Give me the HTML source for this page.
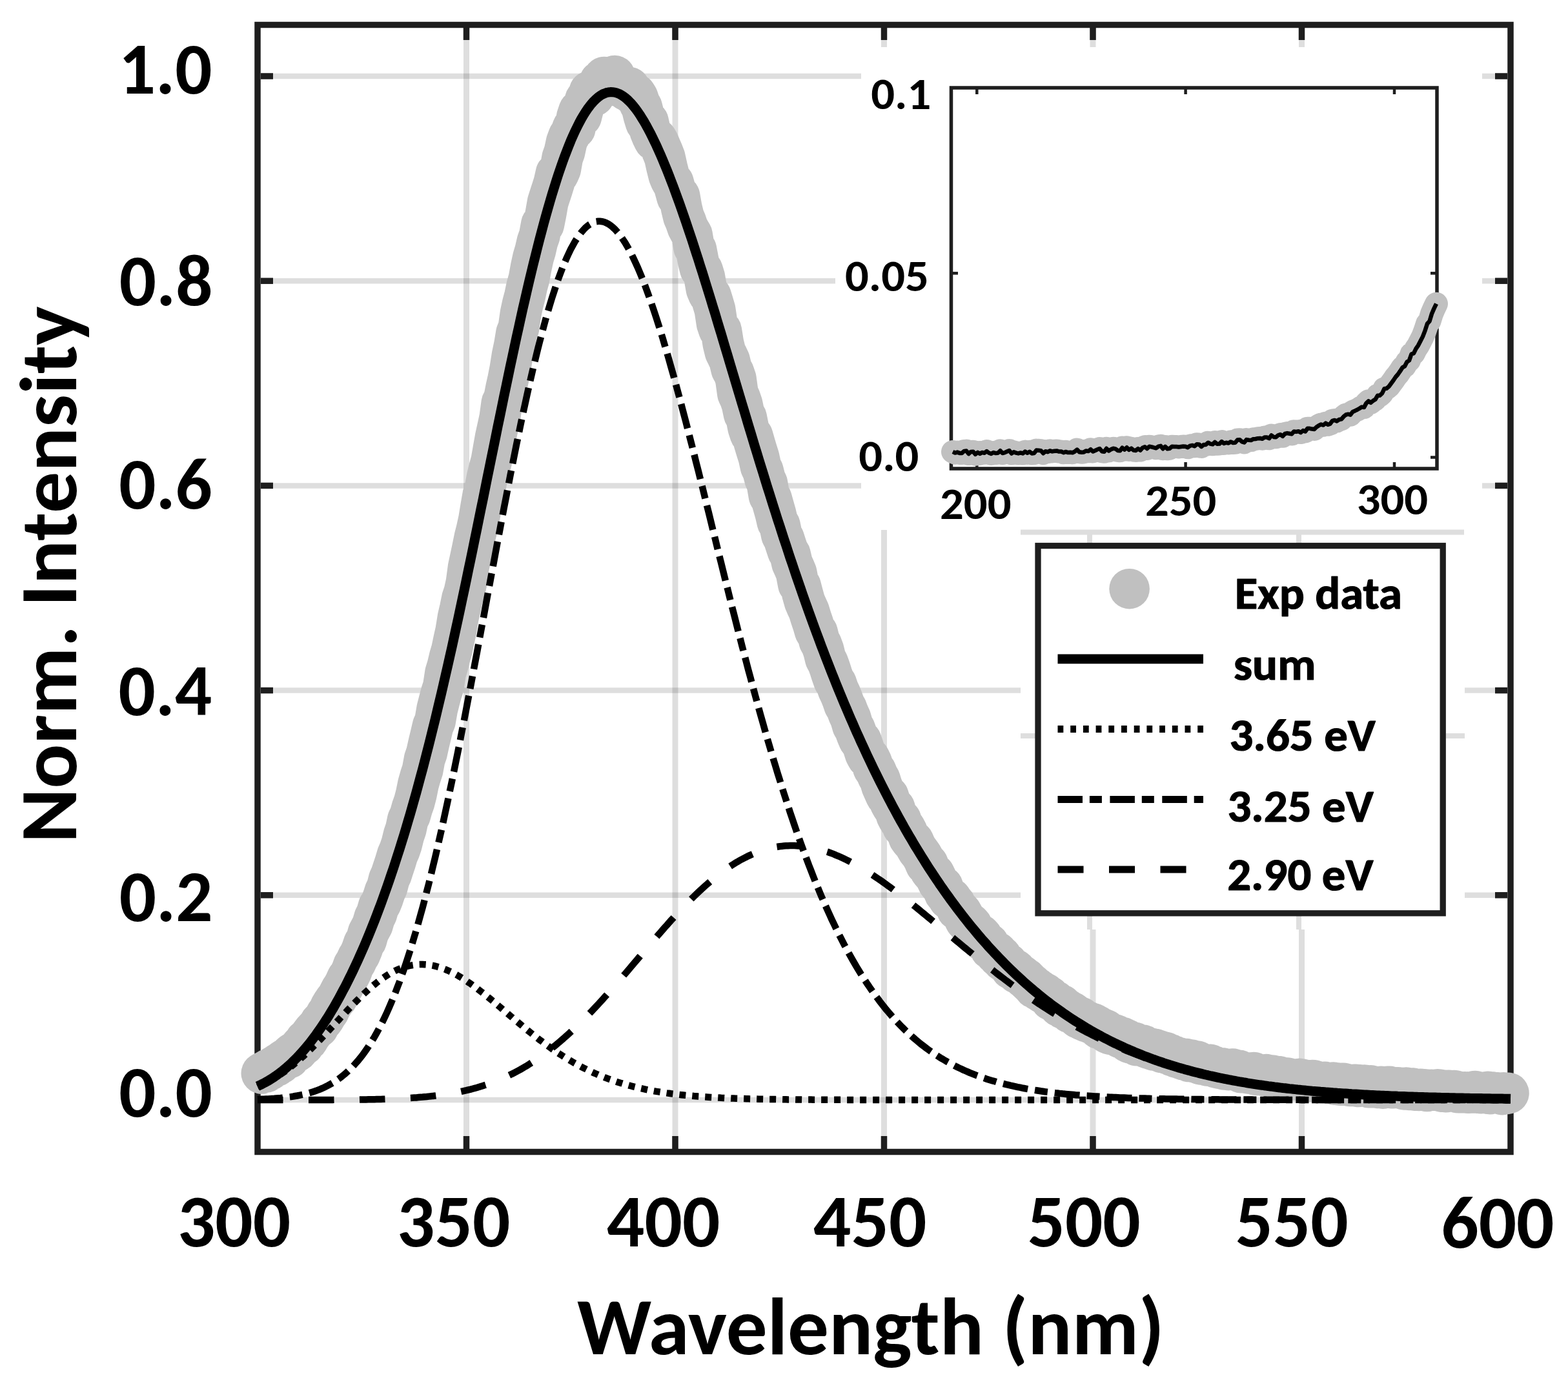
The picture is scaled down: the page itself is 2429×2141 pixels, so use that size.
<!DOCTYPE html>
<html><head><meta charset="utf-8"><title>Norm. Intensity vs Wavelength</title><style>html,body{margin:0;padding:0;background:#fff;overflow:hidden}svg{display:block}</style></head><body>
<svg width="2429" height="2141" viewBox="0 0 2429 2141">
<rect width="2429" height="2141" fill="#fff"/>
<g stroke="#000" stroke-opacity="0.13"><line x1="404" y1="1704.0" x2="2335" y2="1704.0" stroke-width="8.5"/><line x1="404" y1="1386.8" x2="2335" y2="1386.8" stroke-width="8.5"/><line x1="404" y1="1069.6" x2="2335" y2="1069.6" stroke-width="8.5"/><line x1="404" y1="752.4" x2="2335" y2="752.4" stroke-width="8.5"/><line x1="404" y1="435.2" x2="2335" y2="435.2" stroke-width="8.5"/><line x1="404" y1="118.0" x2="2335" y2="118.0" stroke-width="8.5"/><line x1="722.5" y1="43" x2="722.5" y2="1780" stroke-width="9"/><line x1="1046.0" y1="43" x2="1046.0" y2="1780" stroke-width="9"/><line x1="1369.5" y1="43" x2="1369.5" y2="1780" stroke-width="9"/><line x1="1693.0" y1="43" x2="1693.0" y2="1780" stroke-width="9"/><line x1="2016.5" y1="43" x2="2016.5" y2="1780" stroke-width="9"/></g>
<g stroke="#1e1e1e" stroke-width="9.5"><line x1="404" y1="1704.0" x2="423" y2="1704.0"/><line x1="2316" y1="1704.0" x2="2335" y2="1704.0"/><line x1="404" y1="1386.8" x2="423" y2="1386.8"/><line x1="2316" y1="1386.8" x2="2335" y2="1386.8"/><line x1="404" y1="1069.6" x2="423" y2="1069.6"/><line x1="2316" y1="1069.6" x2="2335" y2="1069.6"/><line x1="404" y1="752.4" x2="423" y2="752.4"/><line x1="2316" y1="752.4" x2="2335" y2="752.4"/><line x1="404" y1="435.2" x2="423" y2="435.2"/><line x1="2316" y1="435.2" x2="2335" y2="435.2"/><line x1="404" y1="118.0" x2="423" y2="118.0"/><line x1="2316" y1="118.0" x2="2335" y2="118.0"/><line x1="722.5" y1="43" x2="722.5" y2="62"/><line x1="722.5" y1="1760" x2="722.5" y2="1780"/><line x1="1046.0" y1="43" x2="1046.0" y2="62"/><line x1="1046.0" y1="1760" x2="1046.0" y2="1780"/><line x1="1369.5" y1="43" x2="1369.5" y2="62"/><line x1="1369.5" y1="1760" x2="1369.5" y2="1780"/><line x1="1693.0" y1="43" x2="1693.0" y2="62"/><line x1="1693.0" y1="1760" x2="1693.0" y2="1780"/><line x1="2016.5" y1="43" x2="2016.5" y2="62"/><line x1="2016.5" y1="1760" x2="2016.5" y2="1780"/></g>
<rect x="399" y="38.5" width="1941" height="1746" fill="none" stroke="#1e1e1e" stroke-width="9.5"/>
<path d="M405.5,1662.8 L408.7,1660.7 L411.9,1660.8 L415.2,1657.2 L418.4,1657.1 L421.6,1654.8 L424.9,1651.9 L428.1,1651.5 L431.4,1647.9 L434.6,1647.1 L437.8,1643.6 L441.1,1641.4 L444.3,1640.1 L447.5,1639.0 L450.8,1633.8 L454.0,1631.4 L457.2,1630.0 L460.5,1628.2 L463.7,1623.8 L466.9,1619.9 L470.2,1618.7 L473.4,1611.7 L476.6,1611.2 L479.9,1605.3 L483.1,1600.9 L486.3,1596.8 L489.6,1593.5 L492.8,1591.2 L496.1,1584.3 L499.3,1581.4 L502.5,1577.0 L505.8,1571.1 L509.0,1566.9 L512.2,1559.8 L515.5,1554.5 L518.7,1549.8 L521.9,1546.4 L525.2,1539.7 L528.4,1533.4 L531.6,1528.8 L534.9,1522.2 L538.1,1515.3 L541.3,1511.3 L544.6,1504.5 L547.8,1495.8 L551.0,1490.7 L554.3,1483.6 L557.5,1478.4 L560.8,1470.5 L564.0,1461.0 L567.2,1457.2 L570.5,1445.1 L573.7,1439.0 L576.9,1433.0 L580.2,1421.7 L583.4,1415.4 L586.6,1404.5 L589.9,1399.6 L593.1,1391.5 L596.3,1381.6 L599.6,1374.5 L602.8,1362.0 L606.0,1355.0 L609.3,1344.9 L612.5,1335.2 L615.7,1324.6 L619.0,1317.0 L622.2,1307.5 L625.5,1294.0 L628.7,1284.7 L631.9,1269.8 L635.2,1263.1 L638.4,1251.6 L641.6,1242.7 L644.9,1229.9 L648.1,1214.2 L651.3,1203.0 L654.6,1192.9 L657.8,1175.7 L661.0,1166.5 L664.3,1151.5 L667.5,1138.2 L670.7,1124.6 L674.0,1117.2 L677.2,1098.5 L680.4,1085.9 L683.7,1073.4 L686.9,1063.6 L690.1,1042.6 L693.4,1031.7 L696.6,1018.2 L699.9,1006.8 L703.1,991.6 L706.3,977.3 L709.6,956.8 L712.8,943.0 L716.0,927.3 L719.3,917.3 L722.5,902.7 L725.7,879.0 L729.0,863.7 L732.2,848.6 L735.4,832.9 L738.7,819.8 L741.9,805.1 L745.1,785.6 L748.4,766.8 L751.6,755.6 L754.8,739.0 L758.1,725.4 L761.3,714.0 L764.6,695.1 L767.8,677.1 L771.0,662.5 L774.3,647.5 L777.5,624.0 L780.7,618.9 L784.0,601.8 L787.2,587.5 L790.4,571.1 L793.7,550.4 L796.9,535.2 L800.1,516.1 L803.4,508.2 L806.6,485.6 L809.8,470.9 L813.1,458.3 L816.3,443.3 L819.5,431.7 L822.8,413.7 L826.0,399.3 L829.3,388.0 L832.5,374.1 L835.7,365.1 L839.0,347.4 L842.2,347.8 L845.4,331.8 L848.7,313.0 L851.9,303.1 L855.1,293.4 L858.4,282.8 L861.6,268.4 L864.8,269.6 L868.1,262.0 L871.3,244.1 L874.5,235.1 L877.8,219.8 L881.0,211.4 L884.2,206.9 L887.5,197.6 L890.7,199.1 L894.0,180.8 L897.2,171.5 L900.4,180.1 L903.7,166.8 L906.9,154.5 L910.1,155.6 L913.4,141.8 L916.6,145.4 L919.8,148.6 L923.1,142.7 L926.3,136.4 L929.5,126.0 L932.8,125.2 L936.0,119.7 L939.2,128.3 L942.5,123.1 L945.7,126.7 L948.9,119.1 L952.2,117.8 L955.4,128.9 L958.7,133.4 L961.9,133.3 L965.1,135.1 L968.4,138.3 L971.6,140.4 L974.8,135.6 L978.1,144.6 L981.3,146.4 L984.5,145.9 L987.8,151.1 L991.0,160.7 L994.2,166.2 L997.5,179.4 L1000.7,190.0 L1003.9,188.2 L1007.2,203.0 L1010.4,210.8 L1013.6,217.4 L1016.9,215.3 L1020.1,220.5 L1023.4,228.4 L1026.6,235.8 L1029.8,244.1 L1033.1,259.0 L1036.3,271.7 L1039.5,279.4 L1042.8,282.5 L1046.0,294.1 L1049.2,305.5 L1052.5,303.8 L1055.7,322.0 L1058.9,335.3 L1062.2,343.0 L1065.4,352.3 L1068.6,358.2 L1071.9,363.8 L1075.1,383.0 L1078.3,386.5 L1081.6,403.7 L1084.8,416.6 L1088.1,418.8 L1091.3,429.5 L1094.5,447.8 L1097.8,455.4 L1101.0,458.4 L1104.2,468.6 L1107.5,479.8 L1110.7,501.0 L1113.9,510.4 L1117.2,512.3 L1120.4,532.3 L1123.6,545.2 L1126.9,551.8 L1130.1,558.6 L1133.3,572.0 L1136.6,577.5 L1139.8,586.9 L1143.0,609.9 L1146.3,616.7 L1149.5,625.9 L1152.8,641.8 L1156.0,646.4 L1159.2,662.5 L1162.5,672.6 L1165.7,675.9 L1168.9,687.1 L1172.2,698.2 L1175.4,708.2 L1178.6,722.8 L1181.9,729.5 L1185.1,741.9 L1188.3,749.0 L1191.6,768.2 L1194.8,772.2 L1198.0,783.6 L1201.3,795.2 L1204.5,808.8 L1207.8,813.6 L1211.0,828.9 L1214.2,834.4 L1217.5,844.6 L1220.7,854.3 L1223.9,858.8 L1227.2,872.8 L1230.4,879.8 L1233.6,887.5 L1236.9,905.0 L1240.1,908.1 L1243.3,920.4 L1246.6,932.1 L1249.8,939.5 L1253.0,946.4 L1256.3,957.2 L1259.5,966.5 L1262.7,977.5 L1266.0,979.9 L1269.2,992.8 L1272.4,998.5 L1275.7,1007.3 L1278.9,1020.3 L1282.2,1026.3 L1285.4,1035.0 L1288.6,1045.0 L1291.9,1054.4 L1295.1,1058.4 L1298.3,1067.8 L1301.6,1074.8 L1304.8,1082.7 L1308.0,1092.0 L1311.3,1097.6 L1314.5,1105.9 L1317.7,1112.9 L1321.0,1124.2 L1324.2,1129.5 L1327.4,1138.2 L1330.7,1146.0 L1333.9,1147.7 L1337.2,1157.1 L1340.4,1167.1 L1343.6,1173.2 L1346.9,1174.7 L1350.1,1181.3 L1353.3,1190.5 L1356.6,1194.4 L1359.8,1202.2 L1363.0,1207.5 L1366.3,1218.3 L1369.5,1225.5 L1372.7,1232.6 L1376.0,1233.5 L1379.2,1243.7 L1382.4,1249.4 L1385.7,1251.8 L1388.9,1262.9 L1392.1,1269.3 L1395.4,1270.1 L1398.6,1280.8 L1401.8,1282.8 L1405.1,1289.0 L1408.3,1297.9 L1411.6,1302.4 L1414.8,1303.5 L1418.0,1310.6 L1421.3,1316.5 L1424.5,1320.7 L1427.7,1325.0 L1431.0,1331.0 L1434.2,1338.6 L1437.4,1339.3 L1440.7,1347.6 L1443.9,1351.9 L1447.1,1354.2 L1450.4,1360.9 L1453.6,1367.5 L1456.8,1371.5 L1460.1,1373.6 L1463.3,1383.6 L1466.5,1387.0 L1469.8,1392.5 L1473.0,1392.0 L1476.3,1397.3 L1479.5,1400.4 L1482.7,1408.9 L1486.0,1410.3 L1489.2,1413.7 L1492.4,1419.4 L1495.7,1426.1 L1498.9,1429.6 L1502.1,1430.5 L1505.4,1433.8 L1508.6,1441.7 L1511.8,1443.5 L1515.1,1447.9 L1518.3,1448.3 L1521.5,1451.7 L1524.8,1458.4 L1528.0,1460.5 L1531.2,1462.2 L1534.5,1470.0 L1537.7,1471.7 L1541.0,1475.9 L1544.2,1475.5 L1547.4,1482.6 L1550.7,1481.8 L1553.9,1488.8 L1557.1,1489.9 L1560.4,1492.4 L1563.6,1496.4 L1566.8,1501.2 L1570.1,1500.9 L1573.3,1503.2 L1576.5,1507.9 L1579.8,1509.3 L1583.0,1511.5 L1586.2,1514.5 L1589.5,1516.6 L1592.7,1520.0 L1596.0,1523.1 L1599.2,1525.7 L1602.4,1530.3 L1605.7,1530.7 L1608.9,1534.1 L1612.1,1535.1 L1615.4,1538.2 L1618.6,1539.1 L1621.8,1542.5 L1625.1,1543.8 L1628.3,1549.2 L1631.5,1550.6 L1634.8,1551.2 L1638.0,1554.6 L1641.2,1558.7 L1644.5,1557.3 L1647.7,1562.4 L1650.9,1562.8 L1654.2,1565.1 L1657.4,1568.5 L1660.6,1568.6 L1663.9,1571.1 L1667.1,1573.7 L1670.4,1576.9 L1673.6,1576.1 L1676.8,1580.0 L1680.1,1581.3 L1683.3,1582.8 L1686.5,1583.6 L1689.8,1585.1 L1693.0,1585.7 L1696.2,1587.7 L1699.5,1589.1 L1702.7,1593.4 L1705.9,1593.1 L1709.2,1594.3 L1712.4,1595.6 L1715.6,1600.1 L1718.9,1601.7 L1722.1,1602.4 L1725.3,1602.4 L1728.6,1603.7 L1731.8,1605.3 L1735.1,1607.3 L1738.3,1607.5 L1741.5,1610.0 L1744.8,1610.6 L1748.0,1614.5 L1751.2,1615.9 L1754.5,1615.5 L1757.7,1615.6 L1760.9,1619.5 L1764.2,1618.2 L1767.4,1619.6 L1770.6,1619.4 L1773.9,1622.0 L1777.1,1623.4 L1780.3,1624.6 L1783.6,1624.6 L1786.8,1626.7 L1790.0,1625.9 L1793.3,1627.9 L1796.5,1628.2 L1799.8,1630.4 L1803.0,1630.0 L1806.2,1630.9 L1809.5,1632.9 L1812.7,1633.5 L1815.9,1635.7 L1819.2,1636.4 L1822.4,1638.1 L1825.6,1638.7 L1828.9,1639.8 L1832.1,1641.3 L1835.3,1640.4 L1838.6,1641.1 L1841.8,1644.3 L1845.0,1642.2 L1848.3,1645.1 L1851.5,1645.6 L1854.8,1644.4 L1858.0,1647.9 L1861.2,1648.9 L1864.5,1648.8 L1867.7,1649.9 L1870.9,1651.0 L1874.2,1649.4 L1877.4,1651.4 L1880.6,1652.1 L1883.9,1653.9 L1887.1,1654.5 L1890.3,1655.2 L1893.6,1655.1 L1896.8,1656.8 L1900.0,1656.7 L1903.3,1657.4 L1906.5,1656.4 L1909.7,1656.3 L1913.0,1657.3 L1916.2,1658.7 L1919.5,1658.4 L1922.7,1661.4 L1925.9,1661.0 L1929.2,1661.8 L1932.4,1662.3 L1935.6,1663.0 L1938.9,1662.9 L1942.1,1661.8 L1945.3,1664.9 L1948.6,1665.3 L1951.8,1664.9 L1955.0,1665.5 L1958.3,1666.4 L1961.5,1664.8 L1964.7,1667.5 L1968.0,1666.3 L1971.2,1666.2 L1974.4,1667.3 L1977.7,1669.2 L1980.9,1667.9 L1984.1,1670.1 L1987.4,1671.3 L1990.6,1670.1 L1993.9,1670.2 L1997.1,1670.9 L2000.3,1672.0 L2003.6,1672.7 L2006.8,1672.6 L2010.0,1673.1 L2013.3,1671.6 L2016.5,1672.2 L2019.7,1673.0 L2023.0,1674.9 L2026.2,1673.9 L2029.4,1675.1 L2032.7,1673.7 L2035.9,1674.2 L2039.1,1675.2 L2042.4,1676.8 L2045.6,1677.2 L2048.8,1677.5 L2052.1,1676.6 L2055.3,1677.6 L2058.6,1677.8 L2061.8,1678.1 L2065.0,1677.3 L2068.3,1680.1 L2071.5,1678.1 L2074.7,1680.9 L2078.0,1681.1 L2081.2,1678.4 L2084.4,1680.1 L2087.7,1681.5 L2090.9,1682.3 L2094.1,1680.9 L2097.4,1680.6 L2100.6,1680.6 L2103.8,1683.2 L2107.1,1681.1 L2110.3,1682.6 L2113.6,1681.4 L2116.8,1682.9 L2120.0,1684.5 L2123.3,1682.1 L2126.5,1684.5 L2129.7,1683.7 L2133.0,1685.2 L2136.2,1684.8 L2139.4,1683.5 L2142.7,1685.8 L2145.9,1684.7 L2149.1,1683.5 L2152.4,1683.6 L2155.6,1685.4 L2158.8,1685.5 L2162.1,1685.2 L2165.3,1684.9 L2168.5,1685.8 L2171.8,1685.9 L2175.0,1687.7 L2178.2,1685.3 L2181.5,1687.8 L2184.7,1688.3 L2188.0,1686.2 L2191.2,1688.9 L2194.4,1688.5 L2197.7,1689.2 L2200.9,1687.5 L2204.1,1687.9 L2207.4,1688.2 L2210.6,1690.2 L2213.8,1689.1 L2217.1,1688.6 L2220.3,1689.0 L2223.5,1688.6 L2226.8,1688.1 L2230.0,1688.4 L2233.2,1690.9 L2236.5,1689.3 L2239.7,1691.5 L2242.9,1689.5 L2246.2,1689.7 L2249.4,1690.6 L2252.7,1689.8 L2255.9,1690.5 L2259.1,1692.5 L2262.4,1692.4 L2265.6,1692.3 L2268.8,1691.9 L2272.1,1692.9 L2275.3,1693.1 L2278.5,1692.1 L2281.8,1692.7 L2285.0,1690.8 L2288.2,1693.0 L2291.5,1692.3 L2294.7,1693.4 L2297.9,1693.2 L2301.2,1692.2 L2304.4,1691.6 L2307.6,1694.4 L2310.9,1692.1 L2314.1,1693.3 L2317.4,1693.0 L2320.6,1693.0 L2323.8,1694.5 L2327.1,1695.3 L2330.3,1693.2 L2333.5,1694.5 L2336.8,1693.5" fill="none" stroke="#c0c0c0" stroke-width="64" stroke-linejoin="round" stroke-linecap="round"/>
<path d="M399.0,1704.0 L402.2,1704.0 L405.5,1704.0 L408.7,1704.0 L411.9,1704.0 L415.2,1704.0 L418.4,1704.0 L421.6,1704.0 L424.9,1704.0 L428.1,1704.0 L431.4,1704.0 L434.6,1704.0 L437.8,1704.0 L441.1,1704.0 L444.3,1704.0 L447.5,1704.0 L450.8,1704.0 L454.0,1704.0 L457.2,1704.0 L460.5,1704.0 L463.7,1704.0 L466.9,1704.0 L470.2,1704.0 L473.4,1704.0 L476.6,1704.0 L479.9,1704.0 L483.1,1703.9 L486.3,1703.9 L489.6,1703.9 L492.8,1703.9 L496.1,1703.9 L499.3,1703.9 L502.5,1703.9 L505.8,1703.9 L509.0,1703.9 L512.2,1703.9 L515.5,1703.9 L518.7,1703.8 L521.9,1703.8 L525.2,1703.8 L528.4,1703.8 L531.6,1703.8 L534.9,1703.7 L538.1,1703.7 L541.3,1703.7 L544.6,1703.7 L547.8,1703.6 L551.0,1703.6 L554.3,1703.6 L557.5,1703.5 L560.8,1703.5 L564.0,1703.4 L567.2,1703.4 L570.5,1703.3 L573.7,1703.3 L576.9,1703.2 L580.2,1703.2 L583.4,1703.1 L586.6,1703.0 L589.9,1702.9 L593.1,1702.8 L596.3,1702.7 L599.6,1702.6 L602.8,1702.5 L606.0,1702.4 L609.3,1702.3 L612.5,1702.2 L615.7,1702.0 L619.0,1701.9 L622.2,1701.7 L625.5,1701.6 L628.7,1701.4 L631.9,1701.2 L635.2,1701.0 L638.4,1700.8 L641.6,1700.6 L644.9,1700.4 L648.1,1700.1 L651.3,1699.8 L654.6,1699.6 L657.8,1699.3 L661.0,1699.0 L664.3,1698.6 L667.5,1698.3 L670.7,1697.9 L674.0,1697.6 L677.2,1697.2 L680.4,1696.8 L683.7,1696.3 L686.9,1695.9 L690.1,1695.4 L693.4,1694.9 L696.6,1694.3 L699.9,1693.8 L703.1,1693.2 L706.3,1692.6 L709.6,1692.0 L712.8,1691.3 L716.0,1690.6 L719.3,1689.9 L722.5,1689.2 L725.7,1688.4 L729.0,1687.6 L732.2,1686.7 L735.4,1685.9 L738.7,1685.0 L741.9,1684.0 L745.1,1683.0 L748.4,1682.0 L751.6,1680.9 L754.8,1679.9 L758.1,1678.7 L761.3,1677.5 L764.6,1676.3 L767.8,1675.1 L771.0,1673.8 L774.3,1672.4 L777.5,1671.1 L780.7,1669.6 L784.0,1668.2 L787.2,1666.6 L790.4,1665.1 L793.7,1663.5 L796.9,1661.8 L800.1,1660.1 L803.4,1658.4 L806.6,1656.6 L809.8,1654.7 L813.1,1652.8 L816.3,1650.9 L819.5,1648.9 L822.8,1646.8 L826.0,1644.8 L829.3,1642.6 L832.5,1640.4 L835.7,1638.2 L839.0,1635.9 L842.2,1633.5 L845.4,1631.1 L848.7,1628.7 L851.9,1626.2 L855.1,1623.7 L858.4,1621.1 L861.6,1618.4 L864.8,1615.7 L868.1,1613.0 L871.3,1610.2 L874.5,1607.4 L877.8,1604.5 L881.0,1601.6 L884.2,1598.6 L887.5,1595.6 L890.7,1592.5 L894.0,1589.4 L897.2,1586.3 L900.4,1583.1 L903.7,1579.9 L906.9,1576.6 L910.1,1573.3 L913.4,1570.0 L916.6,1566.6 L919.8,1563.2 L923.1,1559.7 L926.3,1556.2 L929.5,1552.7 L932.8,1549.2 L936.0,1545.6 L939.2,1542.0 L942.5,1538.4 L945.7,1534.7 L948.9,1531.1 L952.2,1527.4 L955.4,1523.6 L958.7,1519.9 L961.9,1516.2 L965.1,1512.4 L968.4,1508.6 L971.6,1504.8 L974.8,1501.1 L978.1,1497.2 L981.3,1493.4 L984.5,1489.6 L987.8,1485.8 L991.0,1482.0 L994.2,1478.2 L997.5,1474.4 L1000.7,1470.6 L1003.9,1466.8 L1007.2,1463.0 L1010.4,1459.2 L1013.6,1455.4 L1016.9,1451.7 L1020.1,1447.9 L1023.4,1444.2 L1026.6,1440.5 L1029.8,1436.8 L1033.1,1433.2 L1036.3,1429.5 L1039.5,1425.9 L1042.8,1422.4 L1046.0,1418.8 L1049.2,1415.3 L1052.5,1411.9 L1055.7,1408.4 L1058.9,1405.0 L1062.2,1401.7 L1065.4,1398.3 L1068.6,1395.1 L1071.9,1391.8 L1075.1,1388.6 L1078.3,1385.5 L1081.6,1382.4 L1084.8,1379.4 L1088.1,1376.4 L1091.3,1373.4 L1094.5,1370.6 L1097.8,1367.7 L1101.0,1365.0 L1104.2,1362.3 L1107.5,1359.6 L1110.7,1357.0 L1113.9,1354.5 L1117.2,1352.0 L1120.4,1349.6 L1123.6,1347.3 L1126.9,1345.0 L1130.1,1342.8 L1133.3,1340.7 L1136.6,1338.6 L1139.8,1336.6 L1143.0,1334.7 L1146.3,1332.8 L1149.5,1331.0 L1152.8,1329.3 L1156.0,1327.7 L1159.2,1326.1 L1162.5,1324.6 L1165.7,1323.2 L1168.9,1321.8 L1172.2,1320.5 L1175.4,1319.3 L1178.6,1318.2 L1181.9,1317.1 L1185.1,1316.1 L1188.3,1315.2 L1191.6,1314.4 L1194.8,1313.6 L1198.0,1312.9 L1201.3,1312.3 L1204.5,1311.8 L1207.8,1311.3 L1211.0,1310.9 L1214.2,1310.6 L1217.5,1310.3 L1220.7,1310.2 L1223.9,1310.1 L1227.2,1310.0 L1230.4,1310.1 L1233.6,1310.2 L1236.9,1310.4 L1240.1,1310.6 L1243.3,1310.9 L1246.6,1311.3 L1249.8,1311.8 L1253.0,1312.3 L1256.3,1312.9 L1259.5,1313.5 L1262.7,1314.2 L1266.0,1315.0 L1269.2,1315.9 L1272.4,1316.8 L1275.7,1317.7 L1278.9,1318.8 L1282.2,1319.8 L1285.4,1321.0 L1288.6,1322.2 L1291.9,1323.4 L1295.1,1324.8 L1298.3,1326.1 L1301.6,1327.5 L1304.8,1329.0 L1308.0,1330.5 L1311.3,1332.1 L1314.5,1333.7 L1317.7,1335.4 L1321.0,1337.1 L1324.2,1338.9 L1327.4,1340.7 L1330.7,1342.5 L1333.9,1344.4 L1337.2,1346.4 L1340.4,1348.3 L1343.6,1350.3 L1346.9,1352.4 L1350.1,1354.5 L1353.3,1356.6 L1356.6,1358.8 L1359.8,1361.0 L1363.0,1363.2 L1366.3,1365.4 L1369.5,1367.7 L1372.7,1370.0 L1376.0,1372.4 L1379.2,1374.7 L1382.4,1377.1 L1385.7,1379.6 L1388.9,1382.0 L1392.1,1384.5 L1395.4,1386.9 L1398.6,1389.4 L1401.8,1392.0 L1405.1,1394.5 L1408.3,1397.1 L1411.6,1399.6 L1414.8,1402.2 L1418.0,1404.8 L1421.3,1407.4 L1424.5,1410.1 L1427.7,1412.7 L1431.0,1415.4 L1434.2,1418.0 L1437.4,1420.7 L1440.7,1423.3 L1443.9,1426.0 L1447.1,1428.7 L1450.4,1431.4 L1453.6,1434.1 L1456.8,1436.8 L1460.1,1439.5 L1463.3,1442.2 L1466.5,1444.9 L1469.8,1447.6 L1473.0,1450.3 L1476.3,1453.0 L1479.5,1455.7 L1482.7,1458.4 L1486.0,1461.0 L1489.2,1463.7 L1492.4,1466.4 L1495.7,1469.1 L1498.9,1471.7 L1502.1,1474.4 L1505.4,1477.0 L1508.6,1479.7 L1511.8,1482.3 L1515.1,1484.9 L1518.3,1487.5 L1521.5,1490.1 L1524.8,1492.7 L1528.0,1495.3 L1531.2,1497.9 L1534.5,1500.4 L1537.7,1502.9 L1541.0,1505.5 L1544.2,1508.0 L1547.4,1510.5 L1550.7,1513.0 L1553.9,1515.4 L1557.1,1517.9 L1560.4,1520.3 L1563.6,1522.7 L1566.8,1525.1 L1570.1,1527.5 L1573.3,1529.9 L1576.5,1532.2 L1579.8,1534.6 L1583.0,1536.9 L1586.2,1539.2 L1589.5,1541.5 L1592.7,1543.7 L1596.0,1546.0 L1599.2,1548.2 L1602.4,1550.4 L1605.7,1552.6 L1608.9,1554.8 L1612.1,1556.9 L1615.4,1559.0 L1618.6,1561.1 L1621.8,1563.2 L1625.1,1565.3 L1628.3,1567.3 L1631.5,1569.4 L1634.8,1571.4 L1638.0,1573.4 L1641.2,1575.3 L1644.5,1577.3 L1647.7,1579.2 L1650.9,1581.1 L1654.2,1583.0 L1657.4,1584.9 L1660.6,1586.7 L1663.9,1588.5 L1667.1,1590.3 L1670.4,1592.1 L1673.6,1593.9 L1676.8,1595.6 L1680.1,1597.3 L1683.3,1599.0 L1686.5,1600.7 L1689.8,1602.4 L1693.0,1604.0 L1696.2,1605.6 L1699.5,1607.2 L1702.7,1608.8 L1705.9,1610.4 L1709.2,1611.9 L1712.4,1613.4 L1715.6,1614.9 L1718.9,1616.4 L1722.1,1617.9 L1725.3,1619.3 L1728.6,1620.7 L1731.8,1622.1 L1735.1,1623.5 L1738.3,1624.9 L1741.5,1626.2 L1744.8,1627.6 L1748.0,1628.9 L1751.2,1630.2 L1754.5,1631.4 L1757.7,1632.7 L1760.9,1633.9 L1764.2,1635.2 L1767.4,1636.4 L1770.6,1637.5 L1773.9,1638.7 L1777.1,1639.9 L1780.3,1641.0 L1783.6,1642.1 L1786.8,1643.2 L1790.0,1644.3 L1793.3,1645.4 L1796.5,1646.4 L1799.8,1647.5 L1803.0,1648.5 L1806.2,1649.5 L1809.5,1650.5 L1812.7,1651.4 L1815.9,1652.4 L1819.2,1653.3 L1822.4,1654.3 L1825.6,1655.2 L1828.9,1656.1 L1832.1,1657.0 L1835.3,1657.8 L1838.6,1658.7 L1841.8,1659.5 L1845.0,1660.4 L1848.3,1661.2 L1851.5,1662.0 L1854.8,1662.8 L1858.0,1663.5 L1861.2,1664.3 L1864.5,1665.1 L1867.7,1665.8 L1870.9,1666.5 L1874.2,1667.2 L1877.4,1667.9 L1880.6,1668.6 L1883.9,1669.3 L1887.1,1670.0 L1890.3,1670.6 L1893.6,1671.3 L1896.8,1671.9 L1900.0,1672.5 L1903.3,1673.1 L1906.5,1673.7 L1909.7,1674.3 L1913.0,1674.9 L1916.2,1675.5 L1919.5,1676.0 L1922.7,1676.6 L1925.9,1677.1 L1929.2,1677.6 L1932.4,1678.1 L1935.6,1678.7 L1938.9,1679.2 L1942.1,1679.6 L1945.3,1680.1 L1948.6,1680.6 L1951.8,1681.1 L1955.0,1681.5 L1958.3,1682.0 L1961.5,1682.4 L1964.7,1682.9 L1968.0,1683.3 L1971.2,1683.7 L1974.4,1684.1 L1977.7,1684.5 L1980.9,1684.9 L1984.1,1685.3 L1987.4,1685.7 L1990.6,1686.0 L1993.9,1686.4 L1997.1,1686.8 L2000.3,1687.1 L2003.6,1687.5 L2006.8,1687.8 L2010.0,1688.1 L2013.3,1688.4 L2016.5,1688.8 L2019.7,1689.1 L2023.0,1689.4 L2026.2,1689.7 L2029.4,1690.0 L2032.7,1690.3 L2035.9,1690.6 L2039.1,1690.8 L2042.4,1691.1 L2045.6,1691.4 L2048.8,1691.6 L2052.1,1691.9 L2055.3,1692.1 L2058.6,1692.4 L2061.8,1692.6 L2065.0,1692.9 L2068.3,1693.1 L2071.5,1693.3 L2074.7,1693.6 L2078.0,1693.8 L2081.2,1694.0 L2084.4,1694.2 L2087.7,1694.4 L2090.9,1694.6 L2094.1,1694.8 L2097.4,1695.0 L2100.6,1695.2 L2103.8,1695.4 L2107.1,1695.6 L2110.3,1695.7 L2113.6,1695.9 L2116.8,1696.1 L2120.0,1696.3 L2123.3,1696.4 L2126.5,1696.6 L2129.7,1696.7 L2133.0,1696.9 L2136.2,1697.1 L2139.4,1697.2 L2142.7,1697.3 L2145.9,1697.5 L2149.1,1697.6 L2152.4,1697.8 L2155.6,1697.9 L2158.8,1698.0 L2162.1,1698.2 L2165.3,1698.3 L2168.5,1698.4 L2171.8,1698.5 L2175.0,1698.6 L2178.2,1698.8 L2181.5,1698.9 L2184.7,1699.0 L2188.0,1699.1 L2191.2,1699.2 L2194.4,1699.3 L2197.7,1699.4 L2200.9,1699.5 L2204.1,1699.6 L2207.4,1699.7 L2210.6,1699.8 L2213.8,1699.9 L2217.1,1700.0 L2220.3,1700.1 L2223.5,1700.1 L2226.8,1700.2 L2230.0,1700.3 L2233.2,1700.4 L2236.5,1700.5 L2239.7,1700.6 L2242.9,1700.6 L2246.2,1700.7 L2249.4,1700.8 L2252.7,1700.8 L2255.9,1700.9 L2259.1,1701.0 L2262.4,1701.0 L2265.6,1701.1 L2268.8,1701.2 L2272.1,1701.2 L2275.3,1701.3 L2278.5,1701.4 L2281.8,1701.4 L2285.0,1701.5 L2288.2,1701.5 L2291.5,1701.6 L2294.7,1701.6 L2297.9,1701.7 L2301.2,1701.7 L2304.4,1701.8 L2307.6,1701.8 L2310.9,1701.9 L2314.1,1701.9 L2317.4,1702.0 L2320.6,1702.0 L2323.8,1702.1 L2327.1,1702.1 L2330.3,1702.2 L2333.5,1702.2 L2336.8,1702.2 L2340.0,1702.3" fill="none" stroke="#000" stroke-width="10.5" stroke-dasharray="39.5 39.5"/>
<path d="M399.0,1703.1 L402.2,1702.9 L405.5,1702.8 L408.7,1702.7 L411.9,1702.5 L415.2,1702.4 L418.4,1702.2 L421.6,1702.0 L424.9,1701.8 L428.1,1701.5 L431.4,1701.2 L434.6,1701.0 L437.8,1700.6 L441.1,1700.3 L444.3,1699.9 L447.5,1699.5 L450.8,1699.1 L454.0,1698.6 L457.2,1698.0 L460.5,1697.5 L463.7,1696.8 L466.9,1696.2 L470.2,1695.5 L473.4,1694.7 L476.6,1693.8 L479.9,1692.9 L483.1,1691.9 L486.3,1690.9 L489.6,1689.8 L492.8,1688.6 L496.1,1687.3 L499.3,1685.9 L502.5,1684.4 L505.8,1682.9 L509.0,1681.2 L512.2,1679.4 L515.5,1677.5 L518.7,1675.5 L521.9,1673.3 L525.2,1671.0 L528.4,1668.6 L531.6,1666.0 L534.9,1663.3 L538.1,1660.4 L541.3,1657.4 L544.6,1654.2 L547.8,1650.8 L551.0,1647.3 L554.3,1643.5 L557.5,1639.6 L560.8,1635.5 L564.0,1631.1 L567.2,1626.6 L570.5,1621.8 L573.7,1616.8 L576.9,1611.6 L580.2,1606.1 L583.4,1600.4 L586.6,1594.5 L589.9,1588.3 L593.1,1581.9 L596.3,1575.2 L599.6,1568.2 L602.8,1560.9 L606.0,1553.4 L609.3,1545.6 L612.5,1537.6 L615.7,1529.2 L619.0,1520.6 L622.2,1511.6 L625.5,1502.4 L628.7,1492.9 L631.9,1483.1 L635.2,1472.9 L638.4,1462.5 L641.6,1451.8 L644.9,1440.8 L648.1,1429.5 L651.3,1417.9 L654.6,1406.1 L657.8,1393.9 L661.0,1381.4 L664.3,1368.7 L667.5,1355.7 L670.7,1342.3 L674.0,1328.8 L677.2,1314.9 L680.4,1300.8 L683.7,1286.5 L686.9,1271.9 L690.1,1257.0 L693.4,1241.9 L696.6,1226.6 L699.9,1211.1 L703.1,1195.4 L706.3,1179.5 L709.6,1163.4 L712.8,1147.1 L716.0,1130.6 L719.3,1114.0 L722.5,1097.3 L725.7,1080.4 L729.0,1063.4 L732.2,1046.3 L735.4,1029.2 L738.7,1011.9 L741.9,994.6 L745.1,977.2 L748.4,959.8 L751.6,942.3 L754.8,924.9 L758.1,907.5 L761.3,890.1 L764.6,872.7 L767.8,855.4 L771.0,838.1 L774.3,821.0 L777.5,803.9 L780.7,787.0 L784.0,770.2 L787.2,753.5 L790.4,737.0 L793.7,720.6 L796.9,704.5 L800.1,688.5 L803.4,672.8 L806.6,657.3 L809.8,642.1 L813.1,627.1 L816.3,612.4 L819.5,597.9 L822.8,583.8 L826.0,570.0 L829.3,556.5 L832.5,543.3 L835.7,530.5 L839.0,518.1 L842.2,506.0 L845.4,494.2 L848.7,482.9 L851.9,472.0 L855.1,461.5 L858.4,451.3 L861.6,441.6 L864.8,432.4 L868.1,423.5 L871.3,415.1 L874.5,407.2 L877.8,399.7 L881.0,392.6 L884.2,386.0 L887.5,379.9 L890.7,374.2 L894.0,369.0 L897.2,364.3 L900.4,360.0 L903.7,356.2 L906.9,352.9 L910.1,350.1 L913.4,347.7 L916.6,345.8 L919.8,344.3 L923.1,343.3 L926.3,342.8 L929.5,342.8 L932.8,343.2 L936.0,344.0 L939.2,345.3 L942.5,347.0 L945.7,349.2 L948.9,351.8 L952.2,354.8 L955.4,358.3 L958.7,362.1 L961.9,366.4 L965.1,371.1 L968.4,376.1 L971.6,381.5 L974.8,387.4 L978.1,393.5 L981.3,400.1 L984.5,407.0 L987.8,414.2 L991.0,421.8 L994.2,429.6 L997.5,437.8 L1000.7,446.3 L1003.9,455.1 L1007.2,464.2 L1010.4,473.6 L1013.6,483.2 L1016.9,493.1 L1020.1,503.2 L1023.4,513.5 L1026.6,524.1 L1029.8,534.9 L1033.1,545.9 L1036.3,557.1 L1039.5,568.5 L1042.8,580.0 L1046.0,591.8 L1049.2,603.6 L1052.5,615.6 L1055.7,627.8 L1058.9,640.1 L1062.2,652.5 L1065.4,665.0 L1068.6,677.6 L1071.9,690.3 L1075.1,703.0 L1078.3,715.9 L1081.6,728.8 L1084.8,741.7 L1088.1,754.7 L1091.3,767.8 L1094.5,780.9 L1097.8,793.9 L1101.0,807.0 L1104.2,820.2 L1107.5,833.3 L1110.7,846.4 L1113.9,859.5 L1117.2,872.5 L1120.4,885.5 L1123.6,898.5 L1126.9,911.5 L1130.1,924.4 L1133.3,937.3 L1136.6,950.1 L1139.8,962.8 L1143.0,975.5 L1146.3,988.0 L1149.5,1000.6 L1152.8,1013.0 L1156.0,1025.3 L1159.2,1037.6 L1162.5,1049.7 L1165.7,1061.8 L1168.9,1073.7 L1172.2,1085.6 L1175.4,1097.3 L1178.6,1108.9 L1181.9,1120.4 L1185.1,1131.8 L1188.3,1143.1 L1191.6,1154.2 L1194.8,1165.2 L1198.0,1176.1 L1201.3,1186.8 L1204.5,1197.4 L1207.8,1207.9 L1211.0,1218.3 L1214.2,1228.5 L1217.5,1238.6 L1220.7,1248.5 L1223.9,1258.3 L1227.2,1268.0 L1230.4,1277.5 L1233.6,1286.9 L1236.9,1296.1 L1240.1,1305.2 L1243.3,1314.1 L1246.6,1323.0 L1249.8,1331.6 L1253.0,1340.2 L1256.3,1348.5 L1259.5,1356.8 L1262.7,1364.9 L1266.0,1372.8 L1269.2,1380.7 L1272.4,1388.4 L1275.7,1395.9 L1278.9,1403.3 L1282.2,1410.6 L1285.4,1417.7 L1288.6,1424.7 L1291.9,1431.6 L1295.1,1438.3 L1298.3,1444.9 L1301.6,1451.4 L1304.8,1457.7 L1308.0,1463.9 L1311.3,1470.0 L1314.5,1476.0 L1317.7,1481.8 L1321.0,1487.6 L1324.2,1493.2 L1327.4,1498.6 L1330.7,1504.0 L1333.9,1509.3 L1337.2,1514.4 L1340.4,1519.4 L1343.6,1524.3 L1346.9,1529.1 L1350.1,1533.8 L1353.3,1538.4 L1356.6,1542.9 L1359.8,1547.2 L1363.0,1551.5 L1366.3,1555.7 L1369.5,1559.8 L1372.7,1563.8 L1376.0,1567.6 L1379.2,1571.4 L1382.4,1575.1 L1385.7,1578.7 L1388.9,1582.3 L1392.1,1585.7 L1395.4,1589.1 L1398.6,1592.3 L1401.8,1595.5 L1405.1,1598.6 L1408.3,1601.7 L1411.6,1604.6 L1414.8,1607.5 L1418.0,1610.3 L1421.3,1613.0 L1424.5,1615.7 L1427.7,1618.3 L1431.0,1620.8 L1434.2,1623.2 L1437.4,1625.6 L1440.7,1628.0 L1443.9,1630.2 L1447.1,1632.4 L1450.4,1634.6 L1453.6,1636.6 L1456.8,1638.7 L1460.1,1640.6 L1463.3,1642.6 L1466.5,1644.4 L1469.8,1646.2 L1473.0,1648.0 L1476.3,1649.7 L1479.5,1651.4 L1482.7,1653.0 L1486.0,1654.6 L1489.2,1656.1 L1492.4,1657.6 L1495.7,1659.0 L1498.9,1660.4 L1502.1,1661.8 L1505.4,1663.1 L1508.6,1664.4 L1511.8,1665.7 L1515.1,1666.9 L1518.3,1668.0 L1521.5,1669.2 L1524.8,1670.3 L1528.0,1671.4 L1531.2,1672.4 L1534.5,1673.4 L1537.7,1674.4 L1541.0,1675.3 L1544.2,1676.3 L1547.4,1677.2 L1550.7,1678.0 L1553.9,1678.9 L1557.1,1679.7 L1560.4,1680.5 L1563.6,1681.2 L1566.8,1682.0 L1570.1,1682.7 L1573.3,1683.4 L1576.5,1684.1 L1579.8,1684.7 L1583.0,1685.4 L1586.2,1686.0 L1589.5,1686.6 L1592.7,1687.2 L1596.0,1687.7 L1599.2,1688.3 L1602.4,1688.8 L1605.7,1689.3 L1608.9,1689.8 L1612.1,1690.3 L1615.4,1690.7 L1618.6,1691.2 L1621.8,1691.6 L1625.1,1692.0 L1628.3,1692.4 L1631.5,1692.8 L1634.8,1693.2 L1638.0,1693.5 L1641.2,1693.9 L1644.5,1694.2 L1647.7,1694.6 L1650.9,1694.9 L1654.2,1695.2 L1657.4,1695.5 L1660.6,1695.8 L1663.9,1696.1 L1667.1,1696.4 L1670.4,1696.6 L1673.6,1696.9 L1676.8,1697.1 L1680.1,1697.4 L1683.3,1697.6 L1686.5,1697.8 L1689.8,1698.0 L1693.0,1698.2 L1696.2,1698.4 L1699.5,1698.6 L1702.7,1698.8 L1705.9,1699.0 L1709.2,1699.2 L1712.4,1699.3 L1715.6,1699.5 L1718.9,1699.7 L1722.1,1699.8 L1725.3,1700.0 L1728.6,1700.1 L1731.8,1700.2 L1735.1,1700.4 L1738.3,1700.5 L1741.5,1700.6 L1744.8,1700.7 L1748.0,1700.9 L1751.2,1701.0 L1754.5,1701.1 L1757.7,1701.2 L1760.9,1701.3 L1764.2,1701.4 L1767.4,1701.5 L1770.6,1701.6 L1773.9,1701.6 L1777.1,1701.7 L1780.3,1701.8 L1783.6,1701.9 L1786.8,1702.0 L1790.0,1702.0 L1793.3,1702.1 L1796.5,1702.2 L1799.8,1702.2 L1803.0,1702.3 L1806.2,1702.4 L1809.5,1702.4 L1812.7,1702.5 L1815.9,1702.5 L1819.2,1702.6 L1822.4,1702.6 L1825.6,1702.7 L1828.9,1702.7 L1832.1,1702.8 L1835.3,1702.8 L1838.6,1702.9 L1841.8,1702.9 L1845.0,1702.9 L1848.3,1703.0 L1851.5,1703.0 L1854.8,1703.1 L1858.0,1703.1 L1861.2,1703.1 L1864.5,1703.2 L1867.7,1703.2 L1870.9,1703.2 L1874.2,1703.2 L1877.4,1703.3 L1880.6,1703.3 L1883.9,1703.3 L1887.1,1703.3 L1890.3,1703.4 L1893.6,1703.4 L1896.8,1703.4 L1900.0,1703.4 L1903.3,1703.5 L1906.5,1703.5 L1909.7,1703.5 L1913.0,1703.5 L1916.2,1703.5 L1919.5,1703.6 L1922.7,1703.6 L1925.9,1703.6 L1929.2,1703.6 L1932.4,1703.6 L1935.6,1703.6 L1938.9,1703.6 L1942.1,1703.7 L1945.3,1703.7 L1948.6,1703.7 L1951.8,1703.7 L1955.0,1703.7 L1958.3,1703.7 L1961.5,1703.7 L1964.7,1703.7 L1968.0,1703.7 L1971.2,1703.8 L1974.4,1703.8 L1977.7,1703.8 L1980.9,1703.8 L1984.1,1703.8 L1987.4,1703.8 L1990.6,1703.8 L1993.9,1703.8 L1997.1,1703.8 L2000.3,1703.8 L2003.6,1703.8 L2006.8,1703.8 L2010.0,1703.8 L2013.3,1703.8 L2016.5,1703.9 L2019.7,1703.9 L2023.0,1703.9 L2026.2,1703.9 L2029.4,1703.9 L2032.7,1703.9 L2035.9,1703.9 L2039.1,1703.9 L2042.4,1703.9 L2045.6,1703.9 L2048.8,1703.9 L2052.1,1703.9 L2055.3,1703.9 L2058.6,1703.9 L2061.8,1703.9 L2065.0,1703.9 L2068.3,1703.9 L2071.5,1703.9 L2074.7,1703.9 L2078.0,1703.9 L2081.2,1703.9 L2084.4,1703.9 L2087.7,1703.9 L2090.9,1703.9 L2094.1,1703.9 L2097.4,1703.9 L2100.6,1703.9 L2103.8,1703.9 L2107.1,1703.9 L2110.3,1704.0 L2113.6,1704.0 L2116.8,1704.0 L2120.0,1704.0 L2123.3,1704.0 L2126.5,1704.0 L2129.7,1704.0 L2133.0,1704.0 L2136.2,1704.0 L2139.4,1704.0 L2142.7,1704.0 L2145.9,1704.0 L2149.1,1704.0 L2152.4,1704.0 L2155.6,1704.0 L2158.8,1704.0 L2162.1,1704.0 L2165.3,1704.0 L2168.5,1704.0 L2171.8,1704.0 L2175.0,1704.0 L2178.2,1704.0 L2181.5,1704.0 L2184.7,1704.0 L2188.0,1704.0 L2191.2,1704.0 L2194.4,1704.0 L2197.7,1704.0 L2200.9,1704.0 L2204.1,1704.0 L2207.4,1704.0 L2210.6,1704.0 L2213.8,1704.0 L2217.1,1704.0 L2220.3,1704.0 L2223.5,1704.0 L2226.8,1704.0 L2230.0,1704.0 L2233.2,1704.0 L2236.5,1704.0 L2239.7,1704.0 L2242.9,1704.0 L2246.2,1704.0 L2249.4,1704.0 L2252.7,1704.0 L2255.9,1704.0 L2259.1,1704.0 L2262.4,1704.0 L2265.6,1704.0 L2268.8,1704.0 L2272.1,1704.0 L2275.3,1704.0 L2278.5,1704.0 L2281.8,1704.0 L2285.0,1704.0 L2288.2,1704.0 L2291.5,1704.0 L2294.7,1704.0 L2297.9,1704.0 L2301.2,1704.0 L2304.4,1704.0 L2307.6,1704.0 L2310.9,1704.0 L2314.1,1704.0 L2317.4,1704.0 L2320.6,1704.0 L2323.8,1704.0 L2327.1,1704.0 L2330.3,1704.0 L2333.5,1704.0 L2336.8,1704.0 L2340.0,1704.0" fill="none" stroke="#000" stroke-width="10.5" stroke-dasharray="39 11 20 11"/>
<path d="M399.0,1683.8 L402.2,1682.4 L405.5,1680.9 L408.7,1679.3 L411.9,1677.7 L415.2,1676.1 L418.4,1674.3 L421.6,1672.5 L424.9,1670.6 L428.1,1668.6 L431.4,1666.5 L434.6,1664.4 L437.8,1662.2 L441.1,1659.9 L444.3,1657.5 L447.5,1655.1 L450.8,1652.5 L454.0,1649.9 L457.2,1647.3 L460.5,1644.6 L463.7,1641.8 L466.9,1638.9 L470.2,1636.0 L473.4,1633.0 L476.6,1629.9 L479.9,1626.8 L483.1,1623.6 L486.3,1620.4 L489.6,1617.2 L492.8,1613.8 L496.1,1610.5 L499.3,1607.1 L502.5,1603.7 L505.8,1600.3 L509.0,1596.8 L512.2,1593.3 L515.5,1589.8 L518.7,1586.3 L521.9,1582.8 L525.2,1579.3 L528.4,1575.8 L531.6,1572.3 L534.9,1568.9 L538.1,1565.4 L541.3,1562.0 L544.6,1558.6 L547.8,1555.3 L551.0,1552.0 L554.3,1548.7 L557.5,1545.5 L560.8,1542.4 L564.0,1539.3 L567.2,1536.3 L570.5,1533.4 L573.7,1530.5 L576.9,1527.8 L580.2,1525.1 L583.4,1522.5 L586.6,1520.0 L589.9,1517.6 L593.1,1515.3 L596.3,1513.1 L599.6,1511.0 L602.8,1509.0 L606.0,1507.2 L609.3,1505.4 L612.5,1503.8 L615.7,1502.3 L619.0,1500.9 L622.2,1499.7 L625.5,1498.5 L628.7,1497.5 L631.9,1496.6 L635.2,1495.9 L638.4,1495.3 L641.6,1494.8 L644.9,1494.4 L648.1,1494.1 L651.3,1494.0 L654.6,1494.0 L657.8,1494.2 L661.0,1494.4 L664.3,1494.8 L667.5,1495.3 L670.7,1495.9 L674.0,1496.6 L677.2,1497.5 L680.4,1498.4 L683.7,1499.5 L686.9,1500.7 L690.1,1501.9 L693.4,1503.3 L696.6,1504.8 L699.9,1506.3 L703.1,1508.0 L706.3,1509.7 L709.6,1511.5 L712.8,1513.4 L716.0,1515.4 L719.3,1517.5 L722.5,1519.6 L725.7,1521.8 L729.0,1524.0 L732.2,1526.3 L735.4,1528.7 L738.7,1531.1 L741.9,1533.6 L745.1,1536.1 L748.4,1538.6 L751.6,1541.2 L754.8,1543.8 L758.1,1546.4 L761.3,1549.1 L764.6,1551.8 L767.8,1554.5 L771.0,1557.2 L774.3,1559.9 L777.5,1562.7 L780.7,1565.4 L784.0,1568.2 L787.2,1570.9 L790.4,1573.7 L793.7,1576.4 L796.9,1579.2 L800.1,1581.9 L803.4,1584.6 L806.6,1587.3 L809.8,1590.0 L813.1,1592.7 L816.3,1595.3 L819.5,1597.9 L822.8,1600.5 L826.0,1603.1 L829.3,1605.7 L832.5,1608.2 L835.7,1610.7 L839.0,1613.1 L842.2,1615.5 L845.4,1617.9 L848.7,1620.3 L851.9,1622.6 L855.1,1624.9 L858.4,1627.1 L861.6,1629.3 L864.8,1631.5 L868.1,1633.6 L871.3,1635.7 L874.5,1637.7 L877.8,1639.7 L881.0,1641.7 L884.2,1643.6 L887.5,1645.5 L890.7,1647.3 L894.0,1649.1 L897.2,1650.9 L900.4,1652.6 L903.7,1654.3 L906.9,1655.9 L910.1,1657.5 L913.4,1659.1 L916.6,1660.6 L919.8,1662.1 L923.1,1663.5 L926.3,1664.9 L929.5,1666.3 L932.8,1667.6 L936.0,1668.9 L939.2,1670.1 L942.5,1671.4 L945.7,1672.5 L948.9,1673.7 L952.2,1674.8 L955.4,1675.9 L958.7,1676.9 L961.9,1677.9 L965.1,1678.9 L968.4,1679.9 L971.6,1680.8 L974.8,1681.7 L978.1,1682.5 L981.3,1683.4 L984.5,1684.2 L987.8,1685.0 L991.0,1685.7 L994.2,1686.4 L997.5,1687.1 L1000.7,1687.8 L1003.9,1688.5 L1007.2,1689.1 L1010.4,1689.7 L1013.6,1690.3 L1016.9,1690.9 L1020.1,1691.4 L1023.4,1691.9 L1026.6,1692.4 L1029.8,1692.9 L1033.1,1693.4 L1036.3,1693.8 L1039.5,1694.3 L1042.8,1694.7 L1046.0,1695.1 L1049.2,1695.5 L1052.5,1695.9 L1055.7,1696.2 L1058.9,1696.5 L1062.2,1696.9 L1065.4,1697.2 L1068.6,1697.5 L1071.9,1697.8 L1075.1,1698.1 L1078.3,1698.3 L1081.6,1698.6 L1084.8,1698.8 L1088.1,1699.1 L1091.3,1699.3 L1094.5,1699.5 L1097.8,1699.7 L1101.0,1699.9 L1104.2,1700.1 L1107.5,1700.3 L1110.7,1700.4 L1113.9,1700.6 L1117.2,1700.8 L1120.4,1700.9 L1123.6,1701.1 L1126.9,1701.2 L1130.1,1701.3 L1133.3,1701.5 L1136.6,1701.6 L1139.8,1701.7 L1143.0,1701.8 L1146.3,1701.9 L1149.5,1702.0 L1152.8,1702.1 L1156.0,1702.2 L1159.2,1702.3 L1162.5,1702.4 L1165.7,1702.5 L1168.9,1702.5 L1172.2,1702.6 L1175.4,1702.7 L1178.6,1702.7 L1181.9,1702.8 L1185.1,1702.9 L1188.3,1702.9 L1191.6,1703.0 L1194.8,1703.0 L1198.0,1703.1 L1201.3,1703.1 L1204.5,1703.2 L1207.8,1703.2 L1211.0,1703.2 L1214.2,1703.3 L1217.5,1703.3 L1220.7,1703.4 L1223.9,1703.4 L1227.2,1703.4 L1230.4,1703.4 L1233.6,1703.5 L1236.9,1703.5 L1240.1,1703.5 L1243.3,1703.6 L1246.6,1703.6 L1249.8,1703.6 L1253.0,1703.6 L1256.3,1703.6 L1259.5,1703.7 L1262.7,1703.7 L1266.0,1703.7 L1269.2,1703.7 L1272.4,1703.7 L1275.7,1703.7 L1278.9,1703.8 L1282.2,1703.8 L1285.4,1703.8 L1288.6,1703.8 L1291.9,1703.8 L1295.1,1703.8 L1298.3,1703.8 L1301.6,1703.8 L1304.8,1703.8 L1308.0,1703.8 L1311.3,1703.9 L1314.5,1703.9 L1317.7,1703.9 L1321.0,1703.9 L1324.2,1703.9 L1327.4,1703.9 L1330.7,1703.9 L1333.9,1703.9 L1337.2,1703.9 L1340.4,1703.9 L1343.6,1703.9 L1346.9,1703.9 L1350.1,1703.9 L1353.3,1703.9 L1356.6,1703.9 L1359.8,1703.9 L1363.0,1703.9 L1366.3,1703.9 L1369.5,1703.9 L1372.7,1704.0 L1376.0,1704.0 L1379.2,1704.0 L1382.4,1704.0 L1385.7,1704.0 L1388.9,1704.0 L1392.1,1704.0 L1395.4,1704.0 L1398.6,1704.0 L1401.8,1704.0 L1405.1,1704.0 L1408.3,1704.0 L1411.6,1704.0 L1414.8,1704.0 L1418.0,1704.0 L1421.3,1704.0 L1424.5,1704.0 L1427.7,1704.0 L1431.0,1704.0 L1434.2,1704.0 L1437.4,1704.0 L1440.7,1704.0 L1443.9,1704.0 L1447.1,1704.0 L1450.4,1704.0 L1453.6,1704.0 L1456.8,1704.0 L1460.1,1704.0 L1463.3,1704.0 L1466.5,1704.0 L1469.8,1704.0 L1473.0,1704.0 L1476.3,1704.0 L1479.5,1704.0 L1482.7,1704.0 L1486.0,1704.0 L1489.2,1704.0 L1492.4,1704.0 L1495.7,1704.0 L1498.9,1704.0 L1502.1,1704.0 L1505.4,1704.0 L1508.6,1704.0 L1511.8,1704.0 L1515.1,1704.0 L1518.3,1704.0 L1521.5,1704.0 L1524.8,1704.0 L1528.0,1704.0 L1531.2,1704.0 L1534.5,1704.0 L1537.7,1704.0 L1541.0,1704.0 L1544.2,1704.0 L1547.4,1704.0 L1550.7,1704.0 L1553.9,1704.0 L1557.1,1704.0 L1560.4,1704.0 L1563.6,1704.0 L1566.8,1704.0 L1570.1,1704.0 L1573.3,1704.0 L1576.5,1704.0 L1579.8,1704.0 L1583.0,1704.0 L1586.2,1704.0 L1589.5,1704.0 L1592.7,1704.0 L1596.0,1704.0 L1599.2,1704.0 L1602.4,1704.0 L1605.7,1704.0 L1608.9,1704.0 L1612.1,1704.0 L1615.4,1704.0 L1618.6,1704.0 L1621.8,1704.0 L1625.1,1704.0 L1628.3,1704.0 L1631.5,1704.0 L1634.8,1704.0 L1638.0,1704.0 L1641.2,1704.0 L1644.5,1704.0 L1647.7,1704.0 L1650.9,1704.0 L1654.2,1704.0 L1657.4,1704.0 L1660.6,1704.0 L1663.9,1704.0 L1667.1,1704.0 L1670.4,1704.0 L1673.6,1704.0 L1676.8,1704.0 L1680.1,1704.0 L1683.3,1704.0 L1686.5,1704.0 L1689.8,1704.0 L1693.0,1704.0 L1696.2,1704.0 L1699.5,1704.0 L1702.7,1704.0 L1705.9,1704.0 L1709.2,1704.0 L1712.4,1704.0 L1715.6,1704.0 L1718.9,1704.0 L1722.1,1704.0 L1725.3,1704.0 L1728.6,1704.0 L1731.8,1704.0 L1735.1,1704.0 L1738.3,1704.0 L1741.5,1704.0 L1744.8,1704.0 L1748.0,1704.0 L1751.2,1704.0 L1754.5,1704.0 L1757.7,1704.0 L1760.9,1704.0 L1764.2,1704.0 L1767.4,1704.0 L1770.6,1704.0 L1773.9,1704.0 L1777.1,1704.0 L1780.3,1704.0 L1783.6,1704.0 L1786.8,1704.0 L1790.0,1704.0 L1793.3,1704.0 L1796.5,1704.0 L1799.8,1704.0 L1803.0,1704.0 L1806.2,1704.0 L1809.5,1704.0 L1812.7,1704.0 L1815.9,1704.0 L1819.2,1704.0 L1822.4,1704.0 L1825.6,1704.0 L1828.9,1704.0 L1832.1,1704.0 L1835.3,1704.0 L1838.6,1704.0 L1841.8,1704.0 L1845.0,1704.0 L1848.3,1704.0 L1851.5,1704.0 L1854.8,1704.0 L1858.0,1704.0 L1861.2,1704.0 L1864.5,1704.0 L1867.7,1704.0 L1870.9,1704.0 L1874.2,1704.0 L1877.4,1704.0 L1880.6,1704.0 L1883.9,1704.0 L1887.1,1704.0 L1890.3,1704.0 L1893.6,1704.0 L1896.8,1704.0 L1900.0,1704.0 L1903.3,1704.0 L1906.5,1704.0 L1909.7,1704.0 L1913.0,1704.0 L1916.2,1704.0 L1919.5,1704.0 L1922.7,1704.0 L1925.9,1704.0 L1929.2,1704.0 L1932.4,1704.0 L1935.6,1704.0 L1938.9,1704.0 L1942.1,1704.0 L1945.3,1704.0 L1948.6,1704.0 L1951.8,1704.0 L1955.0,1704.0 L1958.3,1704.0 L1961.5,1704.0 L1964.7,1704.0 L1968.0,1704.0 L1971.2,1704.0 L1974.4,1704.0 L1977.7,1704.0 L1980.9,1704.0 L1984.1,1704.0 L1987.4,1704.0 L1990.6,1704.0 L1993.9,1704.0 L1997.1,1704.0 L2000.3,1704.0 L2003.6,1704.0 L2006.8,1704.0 L2010.0,1704.0 L2013.3,1704.0 L2016.5,1704.0 L2019.7,1704.0 L2023.0,1704.0 L2026.2,1704.0 L2029.4,1704.0 L2032.7,1704.0 L2035.9,1704.0 L2039.1,1704.0 L2042.4,1704.0 L2045.6,1704.0 L2048.8,1704.0 L2052.1,1704.0 L2055.3,1704.0 L2058.6,1704.0 L2061.8,1704.0 L2065.0,1704.0 L2068.3,1704.0 L2071.5,1704.0 L2074.7,1704.0 L2078.0,1704.0 L2081.2,1704.0 L2084.4,1704.0 L2087.7,1704.0 L2090.9,1704.0 L2094.1,1704.0 L2097.4,1704.0 L2100.6,1704.0 L2103.8,1704.0 L2107.1,1704.0 L2110.3,1704.0 L2113.6,1704.0 L2116.8,1704.0 L2120.0,1704.0 L2123.3,1704.0 L2126.5,1704.0 L2129.7,1704.0 L2133.0,1704.0 L2136.2,1704.0 L2139.4,1704.0 L2142.7,1704.0 L2145.9,1704.0 L2149.1,1704.0 L2152.4,1704.0 L2155.6,1704.0 L2158.8,1704.0 L2162.1,1704.0 L2165.3,1704.0 L2168.5,1704.0 L2171.8,1704.0 L2175.0,1704.0 L2178.2,1704.0 L2181.5,1704.0 L2184.7,1704.0 L2188.0,1704.0 L2191.2,1704.0 L2194.4,1704.0 L2197.7,1704.0 L2200.9,1704.0 L2204.1,1704.0 L2207.4,1704.0 L2210.6,1704.0 L2213.8,1704.0 L2217.1,1704.0 L2220.3,1704.0 L2223.5,1704.0 L2226.8,1704.0 L2230.0,1704.0 L2233.2,1704.0 L2236.5,1704.0 L2239.7,1704.0 L2242.9,1704.0 L2246.2,1704.0 L2249.4,1704.0 L2252.7,1704.0 L2255.9,1704.0 L2259.1,1704.0 L2262.4,1704.0 L2265.6,1704.0 L2268.8,1704.0 L2272.1,1704.0 L2275.3,1704.0 L2278.5,1704.0 L2281.8,1704.0 L2285.0,1704.0 L2288.2,1704.0 L2291.5,1704.0 L2294.7,1704.0 L2297.9,1704.0 L2301.2,1704.0 L2304.4,1704.0 L2307.6,1704.0 L2310.9,1704.0 L2314.1,1704.0 L2317.4,1704.0 L2320.6,1704.0 L2323.8,1704.0 L2327.1,1704.0 L2330.3,1704.0 L2333.5,1704.0 L2336.8,1704.0 L2340.0,1704.0" fill="none" stroke="#000" stroke-width="10.5" stroke-dasharray="10 10"/>
<path d="M399.0,1682.8 L402.2,1681.3 L405.5,1679.7 L408.7,1678.0 L411.9,1676.3 L415.2,1674.4 L418.4,1672.5 L421.6,1670.4 L424.9,1668.3 L428.1,1666.1 L431.4,1663.7 L434.6,1661.3 L437.8,1658.8 L441.1,1656.1 L444.3,1653.4 L447.5,1650.5 L450.8,1647.6 L454.0,1644.5 L457.2,1641.3 L460.5,1638.0 L463.7,1634.6 L466.9,1631.0 L470.2,1627.4 L473.4,1623.6 L476.6,1619.7 L479.9,1615.7 L483.1,1611.5 L486.3,1607.3 L489.6,1602.9 L492.8,1598.3 L496.1,1593.7 L499.3,1588.9 L502.5,1584.0 L505.8,1579.0 L509.0,1573.9 L512.2,1568.6 L515.5,1563.2 L518.7,1557.6 L521.9,1552.0 L525.2,1546.1 L528.4,1540.2 L531.6,1534.1 L534.9,1527.9 L538.1,1521.6 L541.3,1515.1 L544.6,1508.5 L547.8,1501.7 L551.0,1494.9 L554.3,1487.8 L557.5,1480.7 L560.8,1473.3 L564.0,1465.9 L567.2,1458.3 L570.5,1450.5 L573.7,1442.6 L576.9,1434.6 L580.2,1426.4 L583.4,1418.0 L586.6,1409.5 L589.9,1400.8 L593.1,1392.0 L596.3,1383.0 L599.6,1373.8 L602.8,1364.5 L606.0,1355.0 L609.3,1345.4 L612.5,1335.5 L615.7,1325.5 L619.0,1315.4 L622.2,1305.0 L625.5,1294.5 L628.7,1283.8 L631.9,1272.9 L635.2,1261.8 L638.4,1250.6 L641.6,1239.2 L644.9,1227.6 L648.1,1215.8 L651.3,1203.8 L654.6,1191.7 L657.8,1179.3 L661.0,1166.8 L664.3,1154.1 L667.5,1141.3 L670.7,1128.2 L674.0,1115.0 L677.2,1101.6 L680.4,1088.0 L683.7,1074.3 L686.9,1060.4 L690.1,1046.3 L693.4,1032.1 L696.6,1017.8 L699.9,1003.3 L703.1,988.6 L706.3,973.8 L709.6,958.9 L712.8,943.9 L716.0,928.7 L719.3,913.4 L722.5,898.1 L725.7,882.6 L729.0,867.0 L732.2,851.4 L735.4,835.7 L738.7,819.9 L741.9,804.1 L745.1,788.3 L748.4,772.4 L751.6,756.5 L754.8,740.6 L758.1,724.6 L761.3,708.7 L764.6,692.8 L767.8,677.0 L771.0,661.1 L774.3,645.4 L777.5,629.7 L780.7,614.0 L784.0,598.5 L787.2,583.1 L790.4,567.7 L793.7,552.5 L796.9,537.5 L800.1,522.5 L803.4,507.8 L806.6,493.2 L809.8,478.7 L813.1,464.5 L816.3,450.5 L819.5,436.7 L822.8,423.1 L826.0,409.7 L829.3,396.6 L832.5,383.7 L835.7,371.1 L839.0,358.7 L842.2,346.6 L845.4,334.9 L848.7,323.4 L851.9,312.2 L855.1,301.3 L858.4,290.7 L861.6,280.4 L864.8,270.5 L868.1,260.9 L871.3,251.6 L874.5,242.7 L877.8,234.2 L881.0,226.0 L884.2,218.1 L887.5,210.6 L890.7,203.5 L894.0,196.8 L897.2,190.4 L900.4,184.4 L903.7,178.8 L906.9,173.6 L910.1,168.8 L913.4,164.4 L916.6,160.4 L919.8,156.8 L923.1,153.6 L926.3,150.8 L929.5,148.4 L932.8,146.4 L936.0,144.9 L939.2,143.7 L942.5,143.0 L945.7,142.6 L948.9,142.7 L952.2,143.1 L955.4,144.0 L958.7,145.2 L961.9,146.9 L965.1,148.9 L968.4,151.3 L971.6,154.0 L974.8,157.1 L978.1,160.5 L981.3,164.3 L984.5,168.4 L987.8,172.9 L991.0,177.6 L994.2,182.7 L997.5,188.0 L1000.7,193.6 L1003.9,199.5 L1007.2,205.7 L1010.4,212.1 L1013.6,218.8 L1016.9,225.6 L1020.1,232.8 L1023.4,240.1 L1026.6,247.7 L1029.8,255.4 L1033.1,263.4 L1036.3,271.6 L1039.5,279.9 L1042.8,288.4 L1046.0,297.1 L1049.2,305.9 L1052.5,314.9 L1055.7,324.0 L1058.9,333.3 L1062.2,342.7 L1065.4,352.3 L1068.6,361.9 L1071.9,371.7 L1075.1,381.6 L1078.3,391.6 L1081.6,401.7 L1084.8,411.9 L1088.1,422.1 L1091.3,432.5 L1094.5,442.9 L1097.8,453.4 L1101.0,463.9 L1104.2,474.5 L1107.5,485.1 L1110.7,495.8 L1113.9,506.5 L1117.2,517.3 L1120.4,528.1 L1123.6,538.9 L1126.9,549.7 L1130.1,560.6 L1133.3,571.4 L1136.6,582.3 L1139.8,593.1 L1143.0,603.9 L1146.3,614.8 L1149.5,625.6 L1152.8,636.4 L1156.0,647.2 L1159.2,658.0 L1162.5,668.7 L1165.7,679.4 L1168.9,690.1 L1172.2,700.7 L1175.4,711.3 L1178.6,721.8 L1181.9,732.3 L1185.1,742.8 L1188.3,753.2 L1191.6,763.5 L1194.8,773.8 L1198.0,784.1 L1201.3,794.3 L1204.5,804.4 L1207.8,814.4 L1211.0,824.4 L1214.2,834.4 L1217.5,844.2 L1220.7,854.0 L1223.9,863.8 L1227.2,873.4 L1230.4,883.0 L1233.6,892.5 L1236.9,902.0 L1240.1,911.3 L1243.3,920.6 L1246.6,929.9 L1249.8,939.0 L1253.0,948.1 L1256.3,957.1 L1259.5,966.0 L1262.7,974.8 L1266.0,983.6 L1269.2,992.2 L1272.4,1000.8 L1275.7,1009.4 L1278.9,1017.8 L1282.2,1026.2 L1285.4,1034.5 L1288.6,1042.7 L1291.9,1050.8 L1295.1,1058.9 L1298.3,1066.9 L1301.6,1074.8 L1304.8,1082.6 L1308.0,1090.3 L1311.3,1098.0 L1314.5,1105.6 L1317.7,1113.1 L1321.0,1120.6 L1324.2,1127.9 L1327.4,1135.2 L1330.7,1142.4 L1333.9,1149.6 L1337.2,1156.7 L1340.4,1163.7 L1343.6,1170.6 L1346.9,1177.4 L1350.1,1184.2 L1353.3,1190.9 L1356.6,1197.6 L1359.8,1204.1 L1363.0,1210.6 L1366.3,1217.1 L1369.5,1223.4 L1372.7,1229.7 L1376.0,1236.0 L1379.2,1242.1 L1382.4,1248.2 L1385.7,1254.3 L1388.9,1260.2 L1392.1,1266.1 L1395.4,1272.0 L1398.6,1277.7 L1401.8,1283.5 L1405.1,1289.1 L1408.3,1294.7 L1411.6,1300.2 L1414.8,1305.7 L1418.0,1311.1 L1421.3,1316.4 L1424.5,1321.7 L1427.7,1326.9 L1431.0,1332.1 L1434.2,1337.2 L1437.4,1342.3 L1440.7,1347.3 L1443.9,1352.2 L1447.1,1357.1 L1450.4,1361.9 L1453.6,1366.7 L1456.8,1371.5 L1460.1,1376.1 L1463.3,1380.7 L1466.5,1385.3 L1469.8,1389.8 L1473.0,1394.3 L1476.3,1398.7 L1479.5,1403.0 L1482.7,1407.4 L1486.0,1411.6 L1489.2,1415.8 L1492.4,1420.0 L1495.7,1424.1 L1498.9,1428.2 L1502.1,1432.2 L1505.4,1436.2 L1508.6,1440.1 L1511.8,1443.9 L1515.1,1447.8 L1518.3,1451.6 L1521.5,1455.3 L1524.8,1459.0 L1528.0,1462.6 L1531.2,1466.3 L1534.5,1469.8 L1537.7,1473.3 L1541.0,1476.8 L1544.2,1480.2 L1547.4,1483.6 L1550.7,1487.0 L1553.9,1490.3 L1557.1,1493.6 L1560.4,1496.8 L1563.6,1500.0 L1566.8,1503.1 L1570.1,1506.2 L1573.3,1509.3 L1576.5,1512.3 L1579.8,1515.3 L1583.0,1518.3 L1586.2,1521.2 L1589.5,1524.1 L1592.7,1526.9 L1596.0,1529.7 L1599.2,1532.5 L1602.4,1535.2 L1605.7,1537.9 L1608.9,1540.5 L1612.1,1543.2 L1615.4,1545.8 L1618.6,1548.3 L1621.8,1550.8 L1625.1,1553.3 L1628.3,1555.8 L1631.5,1558.2 L1634.8,1560.6 L1638.0,1562.9 L1641.2,1565.2 L1644.5,1567.5 L1647.7,1569.8 L1650.9,1572.0 L1654.2,1574.2 L1657.4,1576.4 L1660.6,1578.5 L1663.9,1580.6 L1667.1,1582.7 L1670.4,1584.7 L1673.6,1586.7 L1676.8,1588.7 L1680.1,1590.7 L1683.3,1592.6 L1686.5,1594.5 L1689.8,1596.4 L1693.0,1598.2 L1696.2,1600.1 L1699.5,1601.9 L1702.7,1603.6 L1705.9,1605.4 L1709.2,1607.1 L1712.4,1608.8 L1715.6,1610.4 L1718.9,1612.1 L1722.1,1613.7 L1725.3,1615.3 L1728.6,1616.8 L1731.8,1618.4 L1735.1,1619.9 L1738.3,1621.4 L1741.5,1622.9 L1744.8,1624.3 L1748.0,1625.7 L1751.2,1627.1 L1754.5,1628.5 L1757.7,1629.9 L1760.9,1631.2 L1764.2,1632.5 L1767.4,1633.8 L1770.6,1635.1 L1773.9,1636.4 L1777.1,1637.6 L1780.3,1638.8 L1783.6,1640.0 L1786.8,1641.2 L1790.0,1642.3 L1793.3,1643.5 L1796.5,1644.6 L1799.8,1645.7 L1803.0,1646.8 L1806.2,1647.8 L1809.5,1648.9 L1812.7,1649.9 L1815.9,1650.9 L1819.2,1651.9 L1822.4,1652.9 L1825.6,1653.9 L1828.9,1654.8 L1832.1,1655.7 L1835.3,1656.7 L1838.6,1657.6 L1841.8,1658.4 L1845.0,1659.3 L1848.3,1660.2 L1851.5,1661.0 L1854.8,1661.8 L1858.0,1662.6 L1861.2,1663.4 L1864.5,1664.2 L1867.7,1665.0 L1870.9,1665.7 L1874.2,1666.5 L1877.4,1667.2 L1880.6,1667.9 L1883.9,1668.6 L1887.1,1669.3 L1890.3,1670.0 L1893.6,1670.7 L1896.8,1671.3 L1900.0,1671.9 L1903.3,1672.6 L1906.5,1673.2 L1909.7,1673.8 L1913.0,1674.4 L1916.2,1675.0 L1919.5,1675.6 L1922.7,1676.1 L1925.9,1676.7 L1929.2,1677.2 L1932.4,1677.8 L1935.6,1678.3 L1938.9,1678.8 L1942.1,1679.3 L1945.3,1679.8 L1948.6,1680.3 L1951.8,1680.8 L1955.0,1681.2 L1958.3,1681.7 L1961.5,1682.1 L1964.7,1682.6 L1968.0,1683.0 L1971.2,1683.4 L1974.4,1683.9 L1977.7,1684.3 L1980.9,1684.7 L1984.1,1685.1 L1987.4,1685.5 L1990.6,1685.8 L1993.9,1686.2 L1997.1,1686.6 L2000.3,1686.9 L2003.6,1687.3 L2006.8,1687.6 L2010.0,1688.0 L2013.3,1688.3 L2016.5,1688.6 L2019.7,1688.9 L2023.0,1689.3 L2026.2,1689.6 L2029.4,1689.9 L2032.7,1690.2 L2035.9,1690.4 L2039.1,1690.7 L2042.4,1691.0 L2045.6,1691.3 L2048.8,1691.5 L2052.1,1691.8 L2055.3,1692.1 L2058.6,1692.3 L2061.8,1692.5 L2065.0,1692.8 L2068.3,1693.0 L2071.5,1693.3 L2074.7,1693.5 L2078.0,1693.7 L2081.2,1693.9 L2084.4,1694.1 L2087.7,1694.3 L2090.9,1694.6 L2094.1,1694.8 L2097.4,1694.9 L2100.6,1695.1 L2103.8,1695.3 L2107.1,1695.5 L2110.3,1695.7 L2113.6,1695.9 L2116.8,1696.0 L2120.0,1696.2 L2123.3,1696.4 L2126.5,1696.5 L2129.7,1696.7 L2133.0,1696.9 L2136.2,1697.0 L2139.4,1697.2 L2142.7,1697.3 L2145.9,1697.5 L2149.1,1697.6 L2152.4,1697.7 L2155.6,1697.9 L2158.8,1698.0 L2162.1,1698.1 L2165.3,1698.3 L2168.5,1698.4 L2171.8,1698.5 L2175.0,1698.6 L2178.2,1698.7 L2181.5,1698.9 L2184.7,1699.0 L2188.0,1699.1 L2191.2,1699.2 L2194.4,1699.3 L2197.7,1699.4 L2200.9,1699.5 L2204.1,1699.6 L2207.4,1699.7 L2210.6,1699.8 L2213.8,1699.9 L2217.1,1700.0 L2220.3,1700.1 L2223.5,1700.1 L2226.8,1700.2 L2230.0,1700.3 L2233.2,1700.4 L2236.5,1700.5 L2239.7,1700.5 L2242.9,1700.6 L2246.2,1700.7 L2249.4,1700.8 L2252.7,1700.8 L2255.9,1700.9 L2259.1,1701.0 L2262.4,1701.0 L2265.6,1701.1 L2268.8,1701.2 L2272.1,1701.2 L2275.3,1701.3 L2278.5,1701.4 L2281.8,1701.4 L2285.0,1701.5 L2288.2,1701.5 L2291.5,1701.6 L2294.7,1701.6 L2297.9,1701.7 L2301.2,1701.7 L2304.4,1701.8 L2307.6,1701.8 L2310.9,1701.9 L2314.1,1701.9 L2317.4,1702.0 L2320.6,1702.0 L2323.8,1702.1 L2327.1,1702.1 L2330.3,1702.2 L2333.5,1702.2 L2336.8,1702.2 L2340.0,1702.3" fill="none" stroke="#000" stroke-width="15" stroke-linejoin="round"/>
<rect x="1334" y="73" width="962" height="748" fill="#fff"/>
<rect x="1294" y="395" width="60" height="60" fill="#fff"/>
<g stroke="#1e1e1e" stroke-width="4.5"><line x1="1513.3" y1="138" x2="1513.3" y2="146"/><line x1="1513.3" y1="716" x2="1513.3" y2="724"/><line x1="1836.6" y1="138" x2="1836.6" y2="146"/><line x1="1836.6" y1="716" x2="1836.6" y2="724"/><line x1="2160.0" y1="138" x2="2160.0" y2="146"/><line x1="2160.0" y1="716" x2="2160.0" y2="724"/><line x1="1476" y1="708.5" x2="1484" y2="708.5"/><line x1="2216" y1="708.5" x2="2224" y2="708.5"/><line x1="1476" y1="423.3" x2="1484" y2="423.3"/><line x1="2216" y1="423.3" x2="2224" y2="423.3"/></g>
<rect x="1473.5" y="136" width="752.5" height="590" fill="none" stroke="#1e1e1e" stroke-width="5.5"/>
<path d="M1476.0,699.9 L1479.5,701.6 L1483.0,700.6 L1486.5,701.9 L1490.0,702.0 L1493.5,698.9 L1497.0,698.6 L1500.5,703.1 L1504.0,699.9 L1507.5,699.7 L1511.0,703.8 L1514.5,700.9 L1518.0,702.9 L1521.5,700.9 L1525.0,701.8 L1528.5,699.0 L1532.0,701.7 L1535.5,702.9 L1539.0,701.0 L1542.5,702.1 L1546.0,701.7 L1549.5,698.3 L1553.0,702.1 L1556.5,701.1 L1560.0,699.5 L1563.5,698.0 L1567.0,702.5 L1570.5,700.3 L1574.0,701.6 L1577.5,702.4 L1581.0,701.4 L1584.5,702.5 L1588.0,699.6 L1591.5,701.8 L1595.0,699.7 L1598.5,702.4 L1602.0,702.0 L1605.5,697.6 L1609.0,697.8 L1612.5,698.2 L1616.0,702.2 L1619.5,699.2 L1623.0,700.2 L1626.5,698.3 L1630.0,699.4 L1633.5,698.7 L1637.0,698.4 L1640.5,699.6 L1644.0,699.5 L1647.5,701.2 L1651.0,699.9 L1654.5,701.1 L1658.0,700.7 L1661.5,701.3 L1665.0,699.5 L1668.5,696.6 L1672.0,700.3 L1675.5,700.8 L1679.0,700.4 L1682.5,698.4 L1686.0,699.1 L1689.5,696.2 L1693.0,699.5 L1696.5,698.0 L1700.0,696.3 L1703.5,695.0 L1707.0,699.2 L1710.5,699.8 L1714.0,694.8 L1717.5,698.5 L1721.0,696.3 L1724.5,694.7 L1728.0,695.4 L1731.5,697.9 L1735.0,698.3 L1738.5,693.6 L1742.0,696.6 L1745.5,693.3 L1749.0,696.9 L1752.5,694.6 L1756.0,697.5 L1759.5,697.9 L1763.0,695.1 L1766.5,697.6 L1770.0,693.7 L1773.5,692.2 L1777.0,695.0 L1780.5,691.7 L1784.0,692.4 L1787.5,693.4 L1791.0,694.3 L1794.5,691.6 L1798.0,690.8 L1801.5,695.2 L1805.0,691.9 L1808.5,695.3 L1812.0,694.7 L1815.5,691.7 L1819.0,691.9 L1822.5,692.0 L1826.0,692.5 L1829.5,692.0 L1833.0,691.6 L1836.5,691.7 L1840.0,693.2 L1843.5,690.6 L1847.0,689.9 L1850.5,691.2 L1854.0,688.3 L1857.5,688.4 L1861.0,691.9 L1864.5,689.1 L1868.0,688.9 L1871.5,685.7 L1875.0,687.6 L1878.5,688.3 L1882.0,684.9 L1885.5,687.8 L1889.0,687.6 L1892.5,684.1 L1896.0,686.9 L1899.5,685.7 L1903.0,686.5 L1906.5,684.4 L1910.0,686.0 L1913.5,685.8 L1917.0,681.5 L1920.5,681.3 L1924.0,684.3 L1927.5,685.4 L1931.0,681.1 L1934.5,681.8 L1938.0,682.1 L1941.5,680.2 L1945.0,680.0 L1948.5,679.2 L1952.0,679.0 L1955.5,679.8 L1959.0,677.6 L1962.5,677.5 L1966.0,679.2 L1969.5,674.5 L1973.0,676.9 L1976.5,677.3 L1980.0,674.3 L1983.5,673.2 L1987.0,675.8 L1990.5,672.0 L1994.0,671.1 L1997.5,671.7 L2001.0,672.4 L2004.5,668.4 L2008.0,668.9 L2011.5,668.2 L2015.0,670.1 L2018.5,667.1 L2022.0,668.5 L2025.5,663.8 L2029.0,663.8 L2032.5,664.6 L2036.0,664.9 L2039.5,661.5 L2043.0,659.2 L2046.5,657.5 L2050.0,658.6 L2053.5,655.6 L2057.0,657.8 L2060.5,656.7 L2064.0,651.8 L2067.5,650.9 L2071.0,652.4 L2074.5,650.0 L2078.0,649.4 L2081.5,645.3 L2085.0,642.5 L2088.5,641.7 L2092.0,642.7 L2095.5,637.9 L2099.0,636.4 L2102.5,634.8 L2106.0,632.8 L2109.5,630.6 L2113.0,631.1 L2116.5,624.6 L2120.0,621.3 L2123.5,623.9 L2127.0,620.9 L2130.5,618.8 L2134.0,612.8 L2137.5,612.7 L2141.0,609.4 L2144.5,602.3 L2148.0,601.7 L2151.5,598.7 L2155.0,594.0 L2158.5,589.3 L2162.0,584.0 L2165.5,580.0 L2169.0,574.9 L2172.5,569.4 L2176.0,567.4 L2179.5,560.7 L2183.0,558.3 L2186.5,548.5 L2190.0,547.4 L2193.5,540.2 L2197.0,535.1 L2200.5,528.3 L2204.0,521.4 L2207.5,512.3 L2211.0,501.5 L2214.5,497.6 L2218.0,486.0 L2221.5,477.9 L2225.0,470.7" fill="none" stroke="#c0c0c0" stroke-width="36" stroke-linejoin="round" stroke-linecap="round"/>
<path d="M1476.0,699.9 L1479.5,701.6 L1483.0,700.6 L1486.5,701.9 L1490.0,702.0 L1493.5,698.9 L1497.0,698.6 L1500.5,703.1 L1504.0,699.9 L1507.5,699.7 L1511.0,703.8 L1514.5,700.9 L1518.0,702.9 L1521.5,700.9 L1525.0,701.8 L1528.5,699.0 L1532.0,701.7 L1535.5,702.9 L1539.0,701.0 L1542.5,702.1 L1546.0,701.7 L1549.5,698.3 L1553.0,702.1 L1556.5,701.1 L1560.0,699.5 L1563.5,698.0 L1567.0,702.5 L1570.5,700.3 L1574.0,701.6 L1577.5,702.4 L1581.0,701.4 L1584.5,702.5 L1588.0,699.6 L1591.5,701.8 L1595.0,699.7 L1598.5,702.4 L1602.0,702.0 L1605.5,697.6 L1609.0,697.8 L1612.5,698.2 L1616.0,702.2 L1619.5,699.2 L1623.0,700.2 L1626.5,698.3 L1630.0,699.4 L1633.5,698.7 L1637.0,698.4 L1640.5,699.6 L1644.0,699.5 L1647.5,701.2 L1651.0,699.9 L1654.5,701.1 L1658.0,700.7 L1661.5,701.3 L1665.0,699.5 L1668.5,696.6 L1672.0,700.3 L1675.5,700.8 L1679.0,700.4 L1682.5,698.4 L1686.0,699.1 L1689.5,696.2 L1693.0,699.5 L1696.5,698.0 L1700.0,696.3 L1703.5,695.0 L1707.0,699.2 L1710.5,699.8 L1714.0,694.8 L1717.5,698.5 L1721.0,696.3 L1724.5,694.7 L1728.0,695.4 L1731.5,697.9 L1735.0,698.3 L1738.5,693.6 L1742.0,696.6 L1745.5,693.3 L1749.0,696.9 L1752.5,694.6 L1756.0,697.5 L1759.5,697.9 L1763.0,695.1 L1766.5,697.6 L1770.0,693.7 L1773.5,692.2 L1777.0,695.0 L1780.5,691.7 L1784.0,692.4 L1787.5,693.4 L1791.0,694.3 L1794.5,691.6 L1798.0,690.8 L1801.5,695.2 L1805.0,691.9 L1808.5,695.3 L1812.0,694.7 L1815.5,691.7 L1819.0,691.9 L1822.5,692.0 L1826.0,692.5 L1829.5,692.0 L1833.0,691.6 L1836.5,691.7 L1840.0,693.2 L1843.5,690.6 L1847.0,689.9 L1850.5,691.2 L1854.0,688.3 L1857.5,688.4 L1861.0,691.9 L1864.5,689.1 L1868.0,688.9 L1871.5,685.7 L1875.0,687.6 L1878.5,688.3 L1882.0,684.9 L1885.5,687.8 L1889.0,687.6 L1892.5,684.1 L1896.0,686.9 L1899.5,685.7 L1903.0,686.5 L1906.5,684.4 L1910.0,686.0 L1913.5,685.8 L1917.0,681.5 L1920.5,681.3 L1924.0,684.3 L1927.5,685.4 L1931.0,681.1 L1934.5,681.8 L1938.0,682.1 L1941.5,680.2 L1945.0,680.0 L1948.5,679.2 L1952.0,679.0 L1955.5,679.8 L1959.0,677.6 L1962.5,677.5 L1966.0,679.2 L1969.5,674.5 L1973.0,676.9 L1976.5,677.3 L1980.0,674.3 L1983.5,673.2 L1987.0,675.8 L1990.5,672.0 L1994.0,671.1 L1997.5,671.7 L2001.0,672.4 L2004.5,668.4 L2008.0,668.9 L2011.5,668.2 L2015.0,670.1 L2018.5,667.1 L2022.0,668.5 L2025.5,663.8 L2029.0,663.8 L2032.5,664.6 L2036.0,664.9 L2039.5,661.5 L2043.0,659.2 L2046.5,657.5 L2050.0,658.6 L2053.5,655.6 L2057.0,657.8 L2060.5,656.7 L2064.0,651.8 L2067.5,650.9 L2071.0,652.4 L2074.5,650.0 L2078.0,649.4 L2081.5,645.3 L2085.0,642.5 L2088.5,641.7 L2092.0,642.7 L2095.5,637.9 L2099.0,636.4 L2102.5,634.8 L2106.0,632.8 L2109.5,630.6 L2113.0,631.1 L2116.5,624.6 L2120.0,621.3 L2123.5,623.9 L2127.0,620.9 L2130.5,618.8 L2134.0,612.8 L2137.5,612.7 L2141.0,609.4 L2144.5,602.3 L2148.0,601.7 L2151.5,598.7 L2155.0,594.0 L2158.5,589.3 L2162.0,584.0 L2165.5,580.0 L2169.0,574.9 L2172.5,569.4 L2176.0,567.4 L2179.5,560.7 L2183.0,558.3 L2186.5,548.5 L2190.0,547.4 L2193.5,540.2 L2197.0,535.1 L2200.5,528.3 L2204.0,521.4 L2207.5,512.3 L2211.0,501.5 L2214.5,497.6 L2218.0,486.0 L2221.5,477.9 L2225.0,470.7" fill="none" stroke="#000" stroke-width="6.5" stroke-linejoin="round"/>
<rect x="1581" y="816" width="688" height="624" fill="#fff"/>
<g stroke="#dedede" stroke-width="8"><line x1="1581" y1="824.5" x2="2268" y2="824.5"/><line x1="1688" y1="824" x2="1688" y2="842"/><line x1="2012" y1="824" x2="2012" y2="842"/><line x1="1688" y1="1418" x2="1688" y2="1440"/><line x1="2012" y1="1418" x2="2012" y2="1440"/><line x1="1581" y1="1140" x2="1604" y2="1140"/><line x1="2240" y1="1140" x2="2269" y2="1140"/></g>
<rect x="1608" y="845.5" width="627.2" height="569.3" fill="#fff" stroke="#1e1e1e" stroke-width="9.3"/>
<circle cx="1749.6" cy="912.2" r="31.3" fill="#c0c0c0"/>
<line x1="1638.5" y1="1020.8" x2="1864" y2="1020.8" stroke="#000" stroke-width="14.8"/>
<line x1="1638.5" y1="1129.4" x2="1864" y2="1129.4" stroke="#000" stroke-width="11" stroke-dasharray="8.8 10.9"/>
<line x1="1638.5" y1="1238.5" x2="1864" y2="1238.5" stroke="#000" stroke-width="11" stroke-dasharray="38.5 10.9 19 12.5"/>
<line x1="1638.5" y1="1347" x2="1864" y2="1347" stroke="#000" stroke-width="11" stroke-dasharray="40 39.5"/>
<g font-family="Carlito, 'Liberation Sans', sans-serif" font-weight="bold" font-size="100" fill="#000"><text transform="matrix(1.1530 0 0 1.1600 274.92 1931.45)">300</text><text transform="matrix(1.1530 0 0 1.1600 615.07 1931.45)">350</text><text transform="matrix(1.1530 0 0 1.1600 940.10 1931.45)">400</text><text transform="matrix(1.1530 0 0 1.1600 1260.10 1931.45)">450</text><text transform="matrix(1.1530 0 0 1.1600 1591.50 1931.45)">500</text><text transform="matrix(1.1530 0 0 1.1600 1913.40 1931.45)">550</text><text transform="matrix(1.1530 0 0 1.1600 2232.20 1932.61)">600</text><text transform="matrix(1.1300 0 0 1.1300 183.75 145.22)">1.0</text><text transform="matrix(1.1300 0 0 1.1300 184.69 473.37)">0.8</text><text transform="matrix(1.1300 0 0 1.1300 184.13 788.15)">0.6</text><text transform="matrix(1.1300 0 0 1.1300 183.56 1107.52)">0.4</text><text transform="matrix(1.1300 0 0 1.1300 184.69 1427.17)">0.2</text><text transform="matrix(1.1300 0 0 1.1300 184.13 1730.32)">0.0</text><text transform="matrix(0 -1.2810 1.2500 0 117.50 1305.78)">Norm. Intensity</text><text transform="matrix(1.2720 0 0 1.2500 894.03 2097.60)">Wavelength (nm)</text><text transform="matrix(0.7270 0 0 0.6970 1349.14 168.60)">0.1</text><text transform="matrix(0.7270 0 0 0.6970 1308.92 450.65)">0.05</text><text transform="matrix(0.7270 0 0 0.6970 1330.37 730.45)">0.0</text><text transform="matrix(0.7270 0 0 0.6970 1456.03 804.20)">200</text><text transform="matrix(0.7270 0 0 0.6970 1773.88 798.50)">250</text><text transform="matrix(0.7270 0 0 0.6970 2101.67 796.70)">300</text><text stroke="#000" stroke-width="1.7" stroke-linejoin="round" transform="matrix(0.7280 0 0 0.7120 1912.70 943.38)">Exp data</text><text stroke="#000" stroke-width="1.7" stroke-linejoin="round" transform="matrix(0.7280 0 0 0.7120 1911.04 1052.59)">sum</text><text stroke="#000" stroke-width="1.7" stroke-linejoin="round" transform="matrix(0.7280 0 0 0.7120 1904.59 1163.30)">3.65 eV</text><text stroke="#000" stroke-width="1.7" stroke-linejoin="round" transform="matrix(0.7280 0 0 0.7120 1901.44 1272.99)">3.25 eV</text><text stroke="#000" stroke-width="1.7" stroke-linejoin="round" transform="matrix(0.7280 0 0 0.7120 1901.15 1378.79)">2.90 eV</text></g>
</svg>
</body></html>
